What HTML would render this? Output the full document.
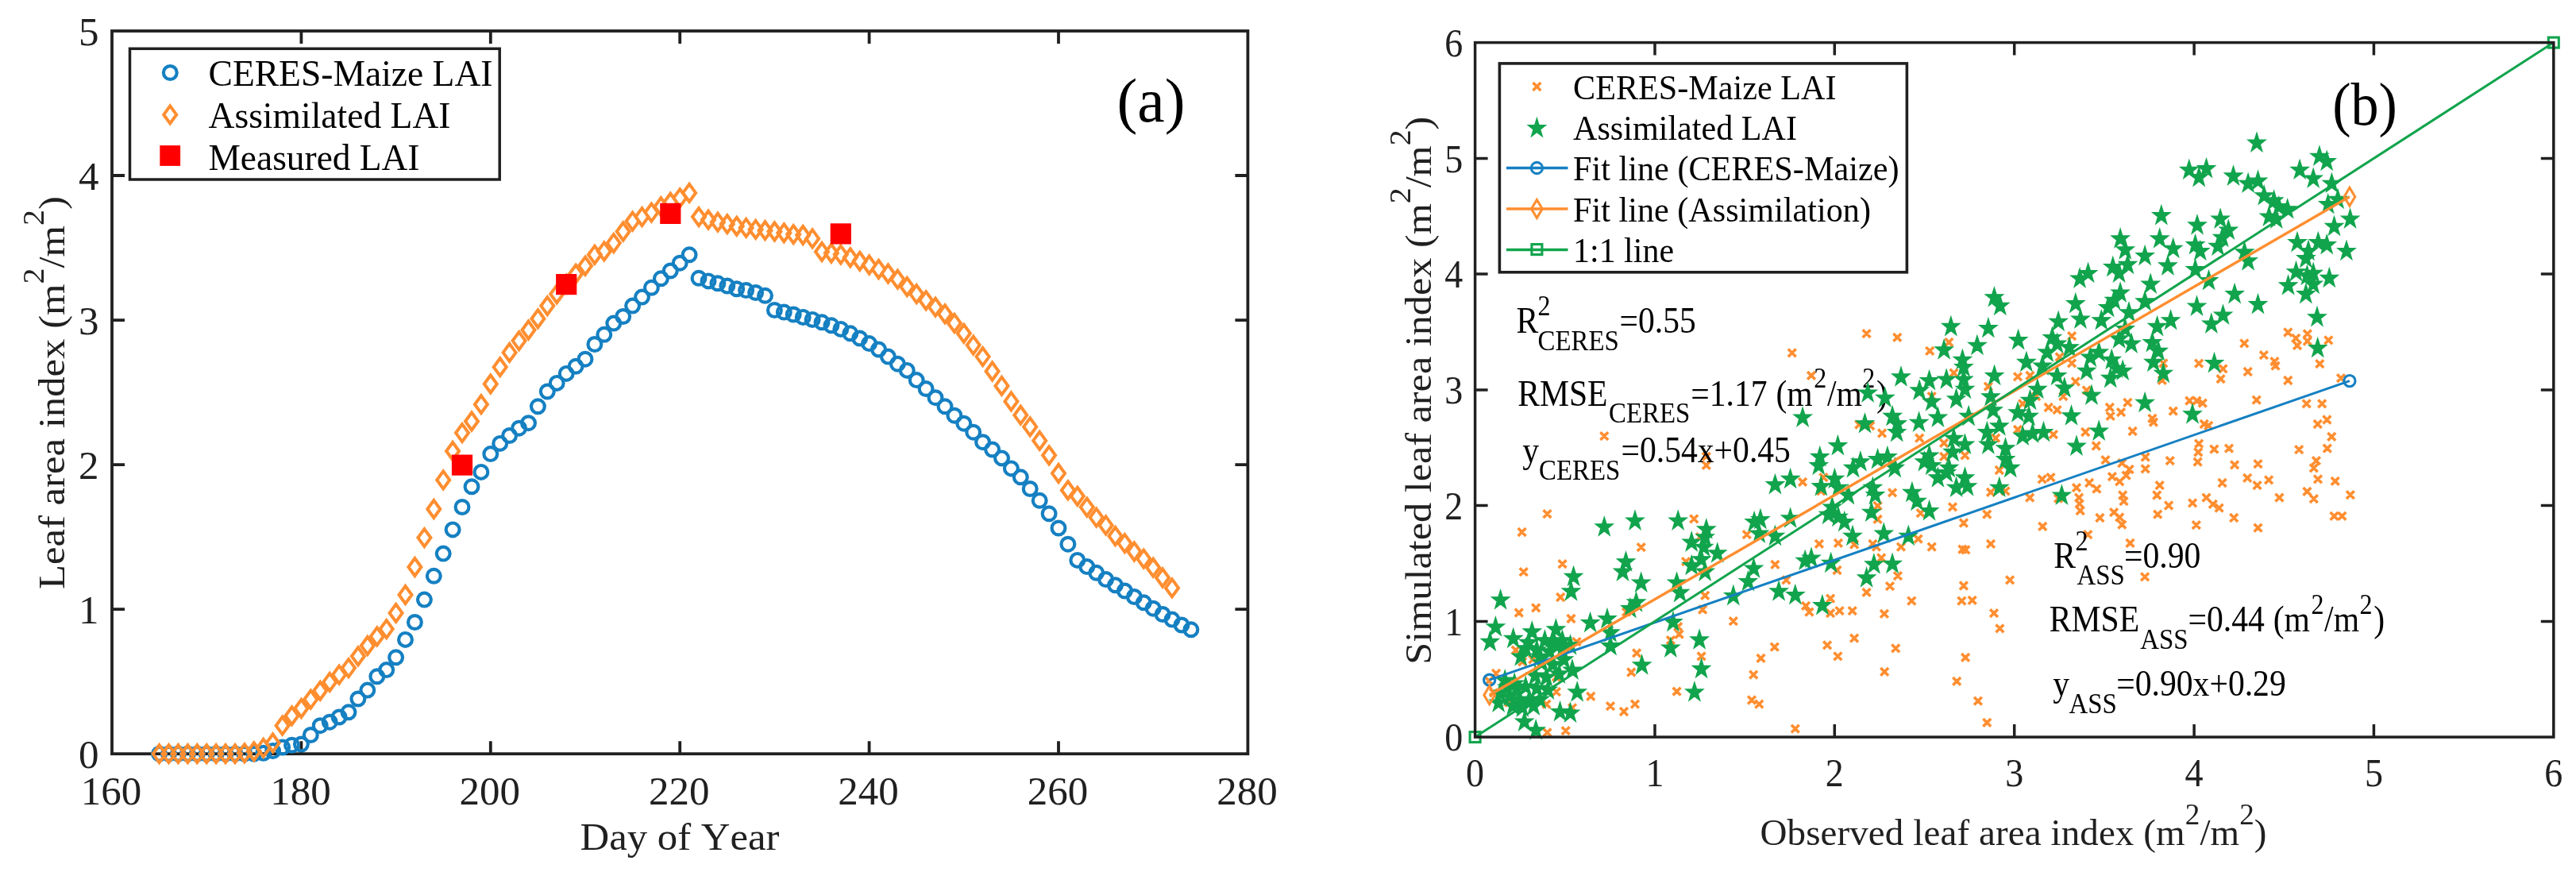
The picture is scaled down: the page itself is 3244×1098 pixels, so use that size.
<!DOCTYPE html>
<html><head><meta charset="utf-8"><title>Figure</title>
<style>html,body{margin:0;padding:0;background:#fff;}svg{display:block;will-change:transform;}text{font-family:"Liberation Serif",serif;font-kerning:none;}</style>
</head><body>
<svg width="3244" height="1098" viewBox="0 0 3244 1098">
<rect width="3244" height="1098" fill="#fff"/>
<g id="left">
<rect x="141.0" y="39.0" width="1430.4" height="910.2" fill="none" stroke="#202020" stroke-width="3.8"/>
<path d="M379.4 949.2v-16M379.4 39.0v16M617.8 949.2v-16M617.8 39.0v16M856.2 949.2v-16M856.2 39.0v16M1094.6 949.2v-16M1094.6 39.0v16M1333.0 949.2v-16M1333.0 39.0v16M141.0 767.2h16M1571.4 767.2h-16M141.0 585.1h16M1571.4 585.1h-16M141.0 403.1h16M1571.4 403.1h-16M141.0 221.0h16M1571.4 221.0h-16" stroke="#202020" stroke-width="3.8" fill="none"/>
<text transform="translate(140.0 1013) scale(0.99 1)" font-size="51.5" font-family="Liberation Serif, serif" fill="#202020" text-anchor="middle">160</text>
<text transform="translate(378.4 1013) scale(0.99 1)" font-size="51.5" font-family="Liberation Serif, serif" fill="#202020" text-anchor="middle">180</text>
<text transform="translate(616.8 1013) scale(0.99 1)" font-size="51.5" font-family="Liberation Serif, serif" fill="#202020" text-anchor="middle">200</text>
<text transform="translate(855.2 1013) scale(0.99 1)" font-size="51.5" font-family="Liberation Serif, serif" fill="#202020" text-anchor="middle">220</text>
<text transform="translate(1093.6 1013) scale(0.99 1)" font-size="51.5" font-family="Liberation Serif, serif" fill="#202020" text-anchor="middle">240</text>
<text transform="translate(1332.0 1013) scale(0.99 1)" font-size="51.5" font-family="Liberation Serif, serif" fill="#202020" text-anchor="middle">260</text>
<text transform="translate(1570.4 1013) scale(0.99 1)" font-size="51.5" font-family="Liberation Serif, serif" fill="#202020" text-anchor="middle">280</text>
<text transform="translate(124.5 967.4) scale(0.99 1)" font-size="51.5" font-family="Liberation Serif, serif" fill="#202020" text-anchor="end">0</text>
<text transform="translate(124.5 785.4) scale(0.99 1)" font-size="51.5" font-family="Liberation Serif, serif" fill="#202020" text-anchor="end">1</text>
<text transform="translate(124.5 603.3) scale(0.99 1)" font-size="51.5" font-family="Liberation Serif, serif" fill="#202020" text-anchor="end">2</text>
<text transform="translate(124.5 421.3) scale(0.99 1)" font-size="51.5" font-family="Liberation Serif, serif" fill="#202020" text-anchor="end">3</text>
<text transform="translate(124.5 239.2) scale(0.99 1)" font-size="51.5" font-family="Liberation Serif, serif" fill="#202020" text-anchor="end">4</text>
<text transform="translate(124.5 57.2) scale(0.99 1)" font-size="51.5" font-family="Liberation Serif, serif" fill="#202020" text-anchor="end">5</text>
<text x="730.5" y="1070" font-size="47.5" font-family="Liberation Serif, serif" fill="#202020" textLength="251" lengthAdjust="spacingAndGlyphs">Day of Year</text>
<text transform="translate(80.6 494.5) rotate(-90)" font-size="47" font-family="Liberation Serif, serif" fill="#202020" text-anchor="middle" textLength="495" lengthAdjust="spacingAndGlyphs">Leaf area index (m<tspan font-size="37.1" dy="-25.9">2</tspan><tspan dy="25.9">/m</tspan><tspan font-size="37.1" dy="-25.9">2</tspan><tspan dy="25.9">)</tspan></text>
<g fill="none" stroke="#1580c2" stroke-width="4.2"><circle cx="200.6" cy="949.2" r="8.4"/><circle cx="212.5" cy="949.2" r="8.4"/><circle cx="224.4" cy="949.2" r="8.4"/><circle cx="236.4" cy="949.2" r="8.4"/><circle cx="248.3" cy="949.2" r="8.4"/><circle cx="260.2" cy="949.2" r="8.4"/><circle cx="272.1" cy="949.2" r="8.4"/><circle cx="284.0" cy="949.2" r="8.4"/><circle cx="296.0" cy="949.2" r="8.4"/><circle cx="307.9" cy="949.2" r="8.4"/><circle cx="319.8" cy="949.2" r="8.4"/><circle cx="331.7" cy="948.3" r="8.4"/><circle cx="343.6" cy="945.6" r="8.4"/><circle cx="355.6" cy="941.0" r="8.4"/><circle cx="367.5" cy="938.3" r="8.4"/><circle cx="379.4" cy="937.0" r="8.4"/><circle cx="391.3" cy="925.5" r="8.4"/><circle cx="403.2" cy="913.7" r="8.4"/><circle cx="415.2" cy="909.2" r="8.4"/><circle cx="427.1" cy="903.0" r="8.4"/><circle cx="439.0" cy="896.8" r="8.4"/><circle cx="450.9" cy="880.0" r="8.4"/><circle cx="462.8" cy="869.1" r="8.4"/><circle cx="474.8" cy="851.8" r="8.4"/><circle cx="486.7" cy="843.6" r="8.4"/><circle cx="498.6" cy="827.8" r="8.4"/><circle cx="510.5" cy="805.4" r="8.4"/><circle cx="522.4" cy="783.5" r="8.4"/><circle cx="534.4" cy="755.1" r="8.4"/><circle cx="546.3" cy="725.3" r="8.4"/><circle cx="558.2" cy="697.1" r="8.4"/><circle cx="570.1" cy="666.9" r="8.4"/><circle cx="582.0" cy="638.5" r="8.4"/><circle cx="594.0" cy="612.8" r="8.4"/><circle cx="605.9" cy="594.4" r="8.4"/><circle cx="617.8" cy="571.6" r="8.4"/><circle cx="629.7" cy="558.4" r="8.4"/><circle cx="641.6" cy="548.5" r="8.4"/><circle cx="653.6" cy="539.2" r="8.4"/><circle cx="665.5" cy="532.7" r="8.4"/><circle cx="677.4" cy="511.8" r="8.4"/><circle cx="689.3" cy="493.0" r="8.4"/><circle cx="701.2" cy="482.4" r="8.4"/><circle cx="713.2" cy="470.4" r="8.4"/><circle cx="725.1" cy="461.3" r="8.4"/><circle cx="737.0" cy="452.2" r="8.4"/><circle cx="748.9" cy="433.5" r="8.4"/><circle cx="760.8" cy="421.3" r="8.4"/><circle cx="772.8" cy="407.1" r="8.4"/><circle cx="784.7" cy="398.5" r="8.4"/><circle cx="796.6" cy="385.1" r="8.4"/><circle cx="808.5" cy="374.1" r="8.4"/><circle cx="820.4" cy="362.3" r="8.4"/><circle cx="832.4" cy="350.8" r="8.4"/><circle cx="844.3" cy="341.0" r="8.4"/><circle cx="856.2" cy="331.2" r="8.4"/><circle cx="868.1" cy="320.8" r="8.4"/><circle cx="880.0" cy="350.3" r="8.4"/><circle cx="892.0" cy="353.9" r="8.4"/><circle cx="903.9" cy="356.8" r="8.4"/><circle cx="915.8" cy="360.1" r="8.4"/><circle cx="927.7" cy="363.8" r="8.4"/><circle cx="939.6" cy="365.6" r="8.4"/><circle cx="951.6" cy="368.5" r="8.4"/><circle cx="963.5" cy="372.3" r="8.4"/><circle cx="975.4" cy="390.5" r="8.4"/><circle cx="987.3" cy="393.1" r="8.4"/><circle cx="999.2" cy="396.0" r="8.4"/><circle cx="1011.2" cy="399.4" r="8.4"/><circle cx="1023.1" cy="402.4" r="8.4"/><circle cx="1035.0" cy="405.8" r="8.4"/><circle cx="1046.9" cy="409.8" r="8.4"/><circle cx="1058.8" cy="414.4" r="8.4"/><circle cx="1070.8" cy="419.8" r="8.4"/><circle cx="1082.7" cy="426.0" r="8.4"/><circle cx="1094.6" cy="432.6" r="8.4"/><circle cx="1106.5" cy="440.0" r="8.4"/><circle cx="1118.4" cy="449.1" r="8.4"/><circle cx="1130.4" cy="458.2" r="8.4"/><circle cx="1142.3" cy="466.4" r="8.4"/><circle cx="1154.2" cy="478.6" r="8.4"/><circle cx="1166.1" cy="489.5" r="8.4"/><circle cx="1178.0" cy="500.7" r="8.4"/><circle cx="1190.0" cy="511.8" r="8.4"/><circle cx="1201.9" cy="523.2" r="8.4"/><circle cx="1213.8" cy="533.2" r="8.4"/><circle cx="1225.7" cy="544.2" r="8.4"/><circle cx="1237.6" cy="556.7" r="8.4"/><circle cx="1249.6" cy="566.0" r="8.4"/><circle cx="1261.5" cy="576.9" r="8.4"/><circle cx="1273.4" cy="589.9" r="8.4"/><circle cx="1285.3" cy="600.8" r="8.4"/><circle cx="1297.2" cy="615.5" r="8.4"/><circle cx="1309.2" cy="630.3" r="8.4"/><circle cx="1321.1" cy="646.8" r="8.4"/><circle cx="1333.0" cy="665.0" r="8.4"/><circle cx="1344.9" cy="685.2" r="8.4"/><circle cx="1356.8" cy="705.4" r="8.4"/><circle cx="1368.8" cy="713.6" r="8.4"/><circle cx="1380.7" cy="721.3" r="8.4"/><circle cx="1392.6" cy="729.5" r="8.4"/><circle cx="1404.5" cy="736.8" r="8.4"/><circle cx="1416.4" cy="744.0" r="8.4"/><circle cx="1428.4" cy="751.5" r="8.4"/><circle cx="1440.3" cy="758.8" r="8.4"/><circle cx="1452.2" cy="766.2" r="8.4"/><circle cx="1464.1" cy="773.5" r="8.4"/><circle cx="1476.0" cy="780.1" r="8.4"/><circle cx="1488.0" cy="787.0" r="8.4"/><circle cx="1499.9" cy="792.8" r="8.4"/></g>
<path d="M200.6 938.2l8.0 11.0l-8.0 11.0l-8.0 -11.0zM212.5 938.2l8.0 11.0l-8.0 11.0l-8.0 -11.0zM224.4 938.2l8.0 11.0l-8.0 11.0l-8.0 -11.0zM236.4 938.2l8.0 11.0l-8.0 11.0l-8.0 -11.0zM248.3 938.2l8.0 11.0l-8.0 11.0l-8.0 -11.0zM260.2 938.2l8.0 11.0l-8.0 11.0l-8.0 -11.0zM272.1 938.2l8.0 11.0l-8.0 11.0l-8.0 -11.0zM284.0 938.2l8.0 11.0l-8.0 11.0l-8.0 -11.0zM296.0 938.2l8.0 11.0l-8.0 11.0l-8.0 -11.0zM307.9 937.3l8.0 11.0l-8.0 11.0l-8.0 -11.0zM319.8 935.3l8.0 11.0l-8.0 11.0l-8.0 -11.0zM331.7 930.9l8.0 11.0l-8.0 11.0l-8.0 -11.0zM343.6 924.5l8.0 11.0l-8.0 11.0l-8.0 -11.0zM355.6 902.7l8.0 11.0l-8.0 11.0l-8.0 -11.0zM367.5 890.3l8.0 11.0l-8.0 11.0l-8.0 -11.0zM379.4 881.0l8.0 11.0l-8.0 11.0l-8.0 -11.0zM391.3 869.6l8.0 11.0l-8.0 11.0l-8.0 -11.0zM403.2 858.8l8.0 11.0l-8.0 11.0l-8.0 -11.0zM415.2 847.9l8.0 11.0l-8.0 11.0l-8.0 -11.0zM427.1 838.6l8.0 11.0l-8.0 11.0l-8.0 -11.0zM439.0 830.1l8.0 11.0l-8.0 11.0l-8.0 -11.0zM450.9 815.3l8.0 11.0l-8.0 11.0l-8.0 -11.0zM462.8 802.0l8.0 11.0l-8.0 11.0l-8.0 -11.0zM474.8 790.4l8.0 11.0l-8.0 11.0l-8.0 -11.0zM486.7 781.1l8.0 11.0l-8.0 11.0l-8.0 -11.0zM498.6 760.9l8.0 11.0l-8.0 11.0l-8.0 -11.0zM510.5 738.0l8.0 11.0l-8.0 11.0l-8.0 -11.0zM522.4 703.0l8.0 11.0l-8.0 11.0l-8.0 -11.0zM534.4 666.1l8.0 11.0l-8.0 11.0l-8.0 -11.0zM546.3 630.0l8.0 11.0l-8.0 11.0l-8.0 -11.0zM558.2 593.4l8.0 11.0l-8.0 11.0l-8.0 -11.0zM570.1 557.0l8.0 11.0l-8.0 11.0l-8.0 -11.0zM582.0 534.1l8.0 11.0l-8.0 11.0l-8.0 -11.0zM594.0 519.5l8.0 11.0l-8.0 11.0l-8.0 -11.0zM605.9 498.2l8.0 11.0l-8.0 11.0l-8.0 -11.0zM617.8 472.5l8.0 11.0l-8.0 11.0l-8.0 -11.0zM629.7 451.2l8.0 11.0l-8.0 11.0l-8.0 -11.0zM641.6 432.9l8.0 11.0l-8.0 11.0l-8.0 -11.0zM653.6 418.1l8.0 11.0l-8.0 11.0l-8.0 -11.0zM665.5 404.5l8.0 11.0l-8.0 11.0l-8.0 -11.0zM677.4 390.3l8.0 11.0l-8.0 11.0l-8.0 -11.0zM689.3 374.1l8.0 11.0l-8.0 11.0l-8.0 -11.0zM701.2 359.3l8.0 11.0l-8.0 11.0l-8.0 -11.0zM713.2 346.6l8.0 11.0l-8.0 11.0l-8.0 -11.0zM725.1 333.8l8.0 11.0l-8.0 11.0l-8.0 -11.0zM737.0 323.8l8.0 11.0l-8.0 11.0l-8.0 -11.0zM748.9 309.8l8.0 11.0l-8.0 11.0l-8.0 -11.0zM760.8 305.4l8.0 11.0l-8.0 11.0l-8.0 -11.0zM772.8 295.1l8.0 11.0l-8.0 11.0l-8.0 -11.0zM784.7 280.5l8.0 11.0l-8.0 11.0l-8.0 -11.0zM796.6 267.6l8.0 11.0l-8.0 11.0l-8.0 -11.0zM808.5 262.1l8.0 11.0l-8.0 11.0l-8.0 -11.0zM820.4 256.6l8.0 11.0l-8.0 11.0l-8.0 -11.0zM832.4 249.2l8.0 11.0l-8.0 11.0l-8.0 -11.0zM844.3 243.7l8.0 11.0l-8.0 11.0l-8.0 -11.0zM856.2 238.3l8.0 11.0l-8.0 11.0l-8.0 -11.0zM868.1 231.9l8.0 11.0l-8.0 11.0l-8.0 -11.0zM880.0 262.1l8.0 11.0l-8.0 11.0l-8.0 -11.0zM892.0 265.7l8.0 11.0l-8.0 11.0l-8.0 -11.0zM903.9 268.7l8.0 11.0l-8.0 11.0l-8.0 -11.0zM915.8 271.2l8.0 11.0l-8.0 11.0l-8.0 -11.0zM927.7 273.8l8.0 11.0l-8.0 11.0l-8.0 -11.0zM939.6 275.9l8.0 11.0l-8.0 11.0l-8.0 -11.0zM951.6 277.9l8.0 11.0l-8.0 11.0l-8.0 -11.0zM963.5 279.2l8.0 11.0l-8.0 11.0l-8.0 -11.0zM975.4 280.5l8.0 11.0l-8.0 11.0l-8.0 -11.0zM987.3 282.3l8.0 11.0l-8.0 11.0l-8.0 -11.0zM999.2 284.1l8.0 11.0l-8.0 11.0l-8.0 -11.0zM1011.2 285.0l8.0 11.0l-8.0 11.0l-8.0 -11.0zM1023.1 289.4l8.0 11.0l-8.0 11.0l-8.0 -11.0zM1035.0 306.0l8.0 11.0l-8.0 11.0l-8.0 -11.0zM1046.9 307.8l8.0 11.0l-8.0 11.0l-8.0 -11.0zM1058.8 309.6l8.0 11.0l-8.0 11.0l-8.0 -11.0zM1070.8 313.3l8.0 11.0l-8.0 11.0l-8.0 -11.0zM1082.7 317.8l8.0 11.0l-8.0 11.0l-8.0 -11.0zM1094.6 322.5l8.0 11.0l-8.0 11.0l-8.0 -11.0zM1106.5 328.0l8.0 11.0l-8.0 11.0l-8.0 -11.0zM1118.4 333.5l8.0 11.0l-8.0 11.0l-8.0 -11.0zM1130.4 340.7l8.0 11.0l-8.0 11.0l-8.0 -11.0zM1142.3 350.0l8.0 11.0l-8.0 11.0l-8.0 -11.0zM1154.2 359.1l8.0 11.0l-8.0 11.0l-8.0 -11.0zM1166.1 367.3l8.0 11.0l-8.0 11.0l-8.0 -11.0zM1178.0 375.7l8.0 11.0l-8.0 11.0l-8.0 -11.0zM1190.0 384.3l8.0 11.0l-8.0 11.0l-8.0 -11.0zM1201.9 395.9l8.0 11.0l-8.0 11.0l-8.0 -11.0zM1213.8 408.8l8.0 11.0l-8.0 11.0l-8.0 -11.0zM1225.7 423.6l8.0 11.0l-8.0 11.0l-8.0 -11.0zM1237.6 438.1l8.0 11.0l-8.0 11.0l-8.0 -11.0zM1249.6 456.5l8.0 11.0l-8.0 11.0l-8.0 -11.0zM1261.5 474.9l8.0 11.0l-8.0 11.0l-8.0 -11.0zM1273.4 494.4l8.0 11.0l-8.0 11.0l-8.0 -11.0zM1285.3 511.7l8.0 11.0l-8.0 11.0l-8.0 -11.0zM1297.2 526.4l8.0 11.0l-8.0 11.0l-8.0 -11.0zM1309.2 543.9l8.0 11.0l-8.0 11.0l-8.0 -11.0zM1321.1 562.3l8.0 11.0l-8.0 11.0l-8.0 -11.0zM1333.0 585.0l8.0 11.0l-8.0 11.0l-8.0 -11.0zM1344.9 606.3l8.0 11.0l-8.0 11.0l-8.0 -11.0zM1356.8 613.8l8.0 11.0l-8.0 11.0l-8.0 -11.0zM1368.8 627.6l8.0 11.0l-8.0 11.0l-8.0 -11.0zM1380.7 640.6l8.0 11.0l-8.0 11.0l-8.0 -11.0zM1392.6 650.4l8.0 11.0l-8.0 11.0l-8.0 -11.0zM1404.5 664.0l8.0 11.0l-8.0 11.0l-8.0 -11.0zM1416.4 673.1l8.0 11.0l-8.0 11.0l-8.0 -11.0zM1428.4 683.5l8.0 11.0l-8.0 11.0l-8.0 -11.0zM1440.3 692.6l8.0 11.0l-8.0 11.0l-8.0 -11.0zM1452.2 703.7l8.0 11.0l-8.0 11.0l-8.0 -11.0zM1464.1 716.5l8.0 11.0l-8.0 11.0l-8.0 -11.0zM1476.0 729.4l8.0 11.0l-8.0 11.0l-8.0 -11.0z" fill="none" stroke="#ff8e30" stroke-width="4.0" stroke-linejoin="miter"/>
<rect x="568.9" y="572.5" width="26.2" height="26.2" fill="#ff0000"/>
<rect x="700.1" y="345.0" width="26.2" height="26.2" fill="#ff0000"/>
<rect x="831.2" y="255.8" width="26.2" height="26.2" fill="#ff0000"/>
<rect x="1045.7" y="281.3" width="26.2" height="26.2" fill="#ff0000"/>
<rect x="163.5" y="61.3" width="465.70000000000005" height="164.7" fill="#fff" stroke="#202020" stroke-width="3.5"/>
<circle cx="214.3" cy="91.5" r="8.4" fill="none" stroke="#1580c2" stroke-width="4.2"/>
<path d="M214.2 133.4l8.0 11.0l-8.0 11.0l-8.0 -11.0z" fill="none" stroke="#ff8e30" stroke-width="4.0"/>
<rect x="201.29999999999998" y="183.1" width="25.8" height="25.8" fill="#ff0000"/>
<text x="262.5" y="108.4" font-size="46.5" font-family="Liberation Serif, serif" fill="#000" textLength="358" lengthAdjust="spacingAndGlyphs">CERES-Maize LAI</text>
<text x="262.5" y="161" font-size="46.5" font-family="Liberation Serif, serif" fill="#000" textLength="305" lengthAdjust="spacingAndGlyphs">Assimilated LAI</text>
<text x="262.5" y="213.6" textLength="266" lengthAdjust="spacingAndGlyphs" font-size="46.5" font-family="Liberation Serif, serif" fill="#000">Measured LAI</text>
<text x="1449.5" y="153.3" font-size="77.5" font-family="Liberation Serif, serif" fill="#000" text-anchor="middle">(a)</text>
</g>
<g id="right">
<path d="M2061.8 684.3l9.8 9.8M2061.8 694.1l9.8 -9.8M1962.7 705.3l9.8 9.8M1962.7 715.1l9.8 -9.8M1913.8 715.3l9.8 9.8M1913.8 725.1l9.8 -9.8M1960.3 747.1l9.8 9.8M1960.3 756.9l9.8 -9.8M1929.3 760.5l9.8 9.8M1929.3 770.3l9.8 -9.8M1907.9 766.6l9.8 9.8M1907.9 776.4l9.8 -9.8M1973.6 774.1l9.8 9.8M1973.6 783.9l9.8 -9.8M2136.1 671.3l9.8 9.8M2136.1 681.1l9.8 -9.8M2118.2 702.3l9.8 9.8M2118.2 712.1l9.8 -9.8M2139.2 762.6l9.8 9.8M2139.2 772.4l9.8 -9.8M2142.3 745.0l9.8 9.8M2142.3 754.8l9.8 -9.8M2177.9 777.2l9.8 9.8M2177.9 787.0l9.8 -9.8M2230.5 706.0l9.8 9.8M2230.5 715.8l9.8 -9.8M2244.5 725.5l9.8 9.8M2244.5 735.3l9.8 -9.8M2108.3 784.3l9.8 9.8M2108.3 794.1l9.8 -9.8M2109.8 793.6l9.8 9.8M2109.8 803.4l9.8 -9.8M2099.0 801.3l9.8 9.8M2099.0 811.1l9.8 -9.8M2056.2 817.4l9.8 9.8M2056.2 827.2l9.8 -9.8M2137.7 821.4l9.8 9.8M2137.7 831.2l9.8 -9.8M2049.4 841.6l9.8 9.8M2049.4 851.4l9.8 -9.8M2229.9 809.7l9.8 9.8M2229.9 819.5l9.8 -9.8M2212.6 823.9l9.8 9.8M2212.6 833.7l9.8 -9.8M2203.3 844.7l9.8 9.8M2203.3 854.5l9.8 -9.8M2106.7 865.7l9.8 9.8M2106.7 875.5l9.8 -9.8M2201.1 876.6l9.8 9.8M2201.1 886.4l9.8 -9.8M2210.4 881.8l9.8 9.8M2210.4 891.6l9.8 -9.8M1998.4 871.9l9.8 9.8M1998.4 881.7l9.8 -9.8M2023.1 884.3l9.8 9.8M2023.1 894.1l9.8 -9.8M2040.1 891.1l9.8 9.8M2040.1 900.9l9.8 -9.8M2054.1 881.8l9.8 9.8M2054.1 891.6l9.8 -9.8M1943.6 917.4l9.8 9.8M1943.6 927.2l9.8 -9.8M1966.8 915.3l9.8 9.8M1966.8 925.1l9.8 -9.8M1955.0 866.3l9.8 9.8M1955.0 876.1l9.8 -9.8M1942.6 881.8l9.8 9.8M1942.6 891.6l9.8 -9.8M1975.1 886.5l9.8 9.8M1975.1 896.3l9.8 -9.8M1955.0 847.8l9.8 9.8M1955.0 857.6l9.8 -9.8M1879.2 843.1l9.8 9.8M1879.2 852.9l9.8 -9.8M1903.9 813.7l9.8 9.8M1903.9 823.5l9.8 -9.8M1911.7 665.1l9.8 9.8M1911.7 674.9l9.8 -9.8M2194.9 668.2l9.8 9.8M2194.9 678.0l9.8 -9.8M2043.2 765.7l9.8 9.8M2043.2 775.5l9.8 -9.8M1912.3 828.4l9.8 9.8M1912.3 838.2l9.8 -9.8M1925.4 825.4l9.8 9.8M1925.4 835.2l9.8 -9.8M1870.2 852.5l9.8 9.8M1870.2 862.3l9.8 -9.8M1895.3 879.6l9.8 9.8M1895.3 889.4l9.8 -9.8M1876.2 867.5l9.8 9.8M1876.2 877.3l9.8 -9.8M1980.6 803.3l9.8 9.8M1980.6 813.1l9.8 -9.8M2286.0 680.0l9.8 9.8M2286.0 689.8l9.8 -9.8M2310.1 679.0l9.8 9.8M2310.1 688.8l9.8 -9.8M2330.2 680.6l9.8 9.8M2330.2 690.4l9.8 -9.8M2353.5 680.0l9.8 9.8M2353.5 689.8l9.8 -9.8M2358.1 683.7l9.8 9.8M2358.1 693.5l9.8 -9.8M2389.1 683.7l9.8 9.8M2389.1 693.5l9.8 -9.8M2410.7 673.8l9.8 9.8M2410.7 683.6l9.8 -9.8M2427.8 683.7l9.8 9.8M2427.8 693.5l9.8 -9.8M2466.5 686.8l9.8 9.8M2466.5 696.6l9.8 -9.8M2470.5 687.4l9.8 9.8M2470.5 697.2l9.8 -9.8M2502.1 680.0l9.8 9.8M2502.1 689.8l9.8 -9.8M2624.4 668.2l9.8 9.8M2624.4 678.0l9.8 -9.8M2308.6 713.1l9.8 9.8M2308.6 722.9l9.8 -9.8M2364.3 697.6l9.8 9.8M2364.3 707.4l9.8 -9.8M2385.0 720.2l9.8 9.8M2385.0 730.0l9.8 -9.8M2375.1 733.2l9.8 9.8M2375.1 743.0l9.8 -9.8M2345.7 741.0l9.8 9.8M2345.7 750.8l9.8 -9.8M2300.2 748.7l9.8 9.8M2300.2 758.5l9.8 -9.8M2269.2 758.0l9.8 9.8M2269.2 767.8l9.8 -9.8M2273.6 765.7l9.8 9.8M2273.6 775.5l9.8 -9.8M2300.2 767.3l9.8 9.8M2300.2 777.1l9.8 -9.8M2311.7 764.2l9.8 9.8M2311.7 774.0l9.8 -9.8M2327.8 764.2l9.8 9.8M2327.8 774.0l9.8 -9.8M2368.0 767.9l9.8 9.8M2368.0 777.7l9.8 -9.8M2402.4 751.8l9.8 9.8M2402.4 761.6l9.8 -9.8M2468.0 732.6l9.8 9.8M2468.0 742.4l9.8 -9.8M2465.5 751.8l9.8 9.8M2465.5 761.6l9.8 -9.8M2478.8 750.9l9.8 9.8M2478.8 760.7l9.8 -9.8M2526.2 725.5l9.8 9.8M2526.2 735.3l9.8 -9.8M2506.1 767.3l9.8 9.8M2506.1 777.1l9.8 -9.8M2513.5 786.5l9.8 9.8M2513.5 796.3l9.8 -9.8M2296.2 807.5l9.8 9.8M2296.2 817.3l9.8 -9.8M2330.2 798.8l9.8 9.8M2330.2 808.6l9.8 -9.8M2309.5 821.4l9.8 9.8M2309.5 831.2l9.8 -9.8M2382.3 811.5l9.8 9.8M2382.3 821.3l9.8 -9.8M2368.3 841.0l9.8 9.8M2368.3 850.8l9.8 -9.8M2470.2 823.0l9.8 9.8M2470.2 832.8l9.8 -9.8M2459.3 853.0l9.8 9.8M2459.3 862.8l9.8 -9.8M2486.0 877.8l9.8 9.8M2486.0 887.6l9.8 -9.8M2497.4 905.0l9.8 9.8M2497.4 914.8l9.8 -9.8M2255.9 912.8l9.8 9.8M2255.9 922.6l9.8 -9.8M2567.4 657.9l9.8 9.8M2567.4 667.7l9.8 -9.8M2677.6 678.9l9.8 9.8M2677.6 688.7l9.8 -9.8M2696.2 721.4l9.8 9.8M2696.2 731.2l9.8 -9.8M2551.3 621.7l9.8 9.8M2551.3 631.5l9.8 -9.8M2566.8 598.4l9.8 9.8M2566.8 608.2l9.8 -9.8M2577.6 596.3l9.8 9.8M2577.6 606.1l9.8 -9.8M2610.1 609.3l9.8 9.8M2610.1 619.1l9.8 -9.8M2613.2 621.7l9.8 9.8M2613.2 631.5l9.8 -9.8M2613.8 629.4l9.8 9.8M2613.8 639.2l9.8 -9.8M2614.8 638.1l9.8 9.8M2614.8 647.9l9.8 -9.8M2626.2 603.1l9.8 9.8M2626.2 612.9l9.8 -9.8M2635.5 610.8l9.8 9.8M2635.5 620.6l9.8 -9.8M2639.5 647.1l9.8 9.8M2639.5 656.9l9.8 -9.8M2646.6 574.3l9.8 9.8M2646.6 584.1l9.8 -9.8M2655.0 595.3l9.8 9.8M2655.0 605.1l9.8 -9.8M2664.3 601.5l9.8 9.8M2664.3 611.3l9.8 -9.8M2667.4 578.3l9.8 9.8M2667.4 588.1l9.8 -9.8M2672.7 593.8l9.8 9.8M2672.7 603.6l9.8 -9.8M2676.7 586.1l9.8 9.8M2676.7 595.9l9.8 -9.8M2668.3 618.6l9.8 9.8M2668.3 628.4l9.8 -9.8M2669.6 626.3l9.8 9.8M2669.6 636.1l9.8 -9.8M2657.2 640.2l9.8 9.8M2657.2 650.0l9.8 -9.8M2664.3 646.4l9.8 9.8M2664.3 656.2l9.8 -9.8M2667.4 655.7l9.8 9.8M2667.4 665.5l9.8 -9.8M2696.8 570.6l9.8 9.8M2696.8 580.4l9.8 -9.8M2696.8 585.4l9.8 9.8M2696.8 595.2l9.8 -9.8M2727.8 575.2l9.8 9.8M2727.8 585.0l9.8 -9.8M2714.8 606.2l9.8 9.8M2714.8 616.0l9.8 -9.8M2711.4 618.6l9.8 9.8M2711.4 628.4l9.8 -9.8M2726.2 631.6l9.8 9.8M2726.2 641.4l9.8 -9.8M2712.3 642.7l9.8 9.8M2712.3 652.5l9.8 -9.8M2756.2 628.5l9.8 9.8M2756.2 638.3l9.8 -9.8M2760.9 656.3l9.8 9.8M2760.9 666.1l9.8 -9.8M2763.4 564.4l9.8 9.8M2763.4 574.2l9.8 -9.8M2762.7 576.8l9.8 9.8M2762.7 586.6l9.8 -9.8M2783.5 560.7l9.8 9.8M2783.5 570.5l9.8 -9.8M2802.1 559.7l9.8 9.8M2802.1 569.5l9.8 -9.8M2809.2 580.5l9.8 9.8M2809.2 590.3l9.8 -9.8M2793.7 603.1l9.8 9.8M2793.7 612.9l9.8 -9.8M2773.6 621.7l9.8 9.8M2773.6 631.5l9.8 -9.8M2781.9 630.0l9.8 9.8M2781.9 639.8l9.8 -9.8M2789.7 634.7l9.8 9.8M2789.7 644.5l9.8 -9.8M2808.3 647.1l9.8 9.8M2808.3 656.9l9.8 -9.8M2838.6 579.2l9.8 9.8M2838.6 589.0l9.8 -9.8M2825.3 596.9l9.8 9.8M2825.3 606.7l9.8 -9.8M2837.7 606.2l9.8 9.8M2837.7 616.0l9.8 -9.8M2852.2 599.4l9.8 9.8M2852.2 609.2l9.8 -9.8M2865.5 621.7l9.8 9.8M2865.5 631.5l9.8 -9.8M2838.6 659.7l9.8 9.8M2838.6 669.5l9.8 -9.8M2890.3 561.3l9.8 9.8M2890.3 571.1l9.8 -9.8M2925.9 559.7l9.8 9.8M2925.9 569.5l9.8 -9.8M2912.0 575.2l9.8 9.8M2912.0 585.0l9.8 -9.8M2908.9 584.5l9.8 9.8M2908.9 594.3l9.8 -9.8M2914.1 598.4l9.8 9.8M2914.1 608.2l9.8 -9.8M2900.5 613.9l9.8 9.8M2900.5 623.7l9.8 -9.8M2908.9 623.2l9.8 9.8M2908.9 633.0l9.8 -9.8M2935.8 600.9l9.8 9.8M2935.8 610.7l9.8 -9.8M2934.6 644.9l9.8 9.8M2934.6 654.7l9.8 -9.8M2944.5 644.9l9.8 9.8M2944.5 654.7l9.8 -9.8M2634.9 556.6l9.8 9.8M2634.9 566.4l9.8 -9.8M2821.4 427.5l9.8 9.8M2821.4 437.3l9.8 -9.8M2764.2 452.8l9.8 9.8M2764.2 462.6l9.8 -9.8M2794.6 459.4l9.8 9.8M2794.6 469.2l9.8 -9.8M2791.7 472.3l9.8 9.8M2791.7 482.1l9.8 -9.8M2825.8 463.1l9.8 9.8M2825.8 472.9l9.8 -9.8M2845.9 442.2l9.8 9.8M2845.9 452.0l9.8 -9.8M2859.5 450.3l9.8 9.8M2859.5 460.1l9.8 -9.8M2860.6 455.8l9.8 9.8M2860.6 465.6l9.8 -9.8M2876.4 474.1l9.8 9.8M2876.4 483.9l9.8 -9.8M2876.4 413.6l9.8 9.8M2876.4 423.4l9.8 -9.8M2886.3 420.9l9.8 9.8M2886.3 430.7l9.8 -9.8M2888.1 430.1l9.8 9.8M2888.1 439.9l9.8 -9.8M2900.9 415.4l9.8 9.8M2900.9 425.2l9.8 -9.8M2900.9 424.6l9.8 9.8M2900.9 434.4l9.8 -9.8M2927.4 423.5l9.8 9.8M2927.4 433.3l9.8 -9.8M2916.4 453.2l9.8 9.8M2916.4 463.0l9.8 -9.8M2943.1 471.2l9.8 9.8M2943.1 481.0l9.8 -9.8M2752.4 499.8l9.8 9.8M2752.4 509.6l9.8 -9.8M2761.6 499.8l9.8 9.8M2761.6 509.6l9.8 -9.8M2768.9 502.7l9.8 9.8M2768.9 512.5l9.8 -9.8M2836.8 498.7l9.8 9.8M2836.8 508.5l9.8 -9.8M2770.8 529.1l9.8 9.8M2770.8 538.9l9.8 -9.8M2776.3 530.9l9.8 9.8M2776.3 540.7l9.8 -9.8M2899.8 503.4l9.8 9.8M2899.8 513.2l9.8 -9.8M2919.3 503.4l9.8 9.8M2919.3 513.2l9.8 -9.8M2925.5 523.6l9.8 9.8M2925.5 533.4l9.8 -9.8M2913.8 529.1l9.8 9.8M2913.8 538.9l9.8 -9.8M2931.4 544.9l9.8 9.8M2931.4 554.7l9.8 -9.8M2954.9 618.2l9.8 9.8M2954.9 628.0l9.8 -9.8M2764.2 553.7l9.8 9.8M2764.2 563.5l9.8 -9.8M2345.7 415.2l9.8 9.8M2345.7 425.0l9.8 -9.8M2384.4 419.9l9.8 9.8M2384.4 429.7l9.8 -9.8M2251.9 439.4l9.8 9.8M2251.9 449.2l9.8 -9.8M2425.3 436.9l9.8 9.8M2425.3 446.7l9.8 -9.8M2449.4 426.1l9.8 9.8M2449.4 435.9l9.8 -9.8M2276.1 467.9l9.8 9.8M2276.1 477.7l9.8 -9.8M2455.6 464.8l9.8 9.8M2455.6 474.6l9.8 -9.8M2427.8 494.2l9.8 9.8M2427.8 504.0l9.8 -9.8M2350.4 531.3l9.8 9.8M2350.4 541.1l9.8 -9.8M2365.2 540.6l9.8 9.8M2365.2 550.4l9.8 -9.8M2336.4 529.8l9.8 9.8M2336.4 539.6l9.8 -9.8M2412.3 546.8l9.8 9.8M2412.3 556.6l9.8 -9.8M2265.2 601.9l9.8 9.8M2265.2 611.7l9.8 -9.8M2291.5 596.3l9.8 9.8M2291.5 606.1l9.8 -9.8M2288.4 613.4l9.8 9.8M2288.4 623.2l9.8 -9.8M2378.2 615.5l9.8 9.8M2378.2 625.3l9.8 -9.8M2454.1 633.5l9.8 9.8M2454.1 643.3l9.8 -9.8M2413.8 641.2l9.8 9.8M2413.8 651.0l9.8 -9.8M2359.7 631.9l9.8 9.8M2359.7 641.7l9.8 -9.8M2359.7 649.0l9.8 9.8M2359.7 658.8l9.8 -9.8M2468.0 653.6l9.8 9.8M2468.0 663.4l9.8 -9.8M2497.4 642.8l9.8 9.8M2497.4 652.6l9.8 -9.8M2499.0 481.8l9.8 9.8M2499.0 491.6l9.8 -9.8M2536.1 469.4l9.8 9.8M2536.1 479.2l9.8 -9.8M2551.6 467.9l9.8 9.8M2551.6 477.7l9.8 -9.8M2604.2 418.3l9.8 9.8M2604.2 428.1l9.8 -9.8M2588.8 444.6l9.8 9.8M2588.8 454.4l9.8 -9.8M2604.2 452.4l9.8 9.8M2604.2 462.2l9.8 -9.8M2608.9 475.6l9.8 9.8M2608.9 485.4l9.8 -9.8M2622.8 486.4l9.8 9.8M2622.8 496.2l9.8 -9.8M2593.4 494.2l9.8 9.8M2593.4 504.0l9.8 -9.8M2559.3 494.2l9.8 9.8M2559.3 504.0l9.8 -9.8M2542.3 503.5l9.8 9.8M2542.3 513.3l9.8 -9.8M2574.8 508.1l9.8 9.8M2574.8 517.9l9.8 -9.8M2585.7 511.2l9.8 9.8M2585.7 521.0l9.8 -9.8M2536.1 536.0l9.8 9.8M2536.1 545.8l9.8 -9.8M2581.0 542.2l9.8 9.8M2581.0 552.0l9.8 -9.8M2621.3 539.1l9.8 9.8M2621.3 548.9l9.8 -9.8M2508.3 546.8l9.8 9.8M2508.3 556.6l9.8 -9.8M2443.2 553.0l9.8 9.8M2443.2 562.8l9.8 -9.8M2443.2 570.0l9.8 9.8M2443.2 579.8l9.8 -9.8M2469.6 568.5l9.8 9.8M2469.6 578.3l9.8 -9.8M2512.9 587.1l9.8 9.8M2512.9 596.9l9.8 -9.8M2502.1 614.9l9.8 9.8M2502.1 624.7l9.8 -9.8M2520.6 613.4l9.8 9.8M2520.6 623.2l9.8 -9.8M2587.2 622.7l9.8 9.8M2587.2 632.5l9.8 -9.8M2015.4 544.3l9.8 9.8M2015.4 554.1l9.8 -9.8M2143.9 570.0l9.8 9.8M2143.9 579.8l9.8 -9.8M2143.9 580.9l9.8 9.8M2143.9 590.7l9.8 -9.8M1943.6 642.2l9.8 9.8M1943.6 652.0l9.8 -9.8M2128.4 648.4l9.8 9.8M2128.4 658.2l9.8 -9.8M2717.9 474.0l9.8 9.8M2717.9 483.8l9.8 -9.8M2719.4 452.4l9.8 9.8M2719.4 462.2l9.8 -9.8M2731.8 512.7l9.8 9.8M2731.8 522.5l9.8 -9.8M2705.5 522.0l9.8 9.8M2705.5 531.8l9.8 -9.8M2707.0 526.7l9.8 9.8M2707.0 536.5l9.8 -9.8M2674.5 501.9l9.8 9.8M2674.5 511.7l9.8 -9.8M2666.2 514.3l9.8 9.8M2666.2 524.1l9.8 -9.8M2651.9 508.1l9.8 9.8M2651.9 517.9l9.8 -9.8M2652.8 518.9l9.8 9.8M2652.8 528.7l9.8 -9.8M2680.7 538.1l9.8 9.8M2680.7 547.9l9.8 -9.8" stroke="#ff8e30" stroke-width="3.6" fill="none"/>
<text transform="translate(1909.5 418.8) scale(0.915 1)" font-size="45.5" font-family="Liberation Serif, serif" fill="#000">R</text>
<text transform="translate(1936.5 397.0) scale(0.915 1)" font-size="35.0" font-family="Liberation Serif, serif" fill="#000">2</text>
<text transform="translate(1936.5 441.1) scale(0.94 1)" font-size="35.0" font-family="Liberation Serif, serif" fill="#000">CERES</text>
<text transform="translate(2039.5 418.8) scale(0.915 1)" font-size="45.5" font-family="Liberation Serif, serif" fill="#000">=0.55</text>
<text transform="translate(1911.2 510.5) scale(0.915 1)" font-size="45.5" font-family="Liberation Serif, serif" fill="#000">RMSE</text>
<text transform="translate(2026.0 532.0) scale(0.94 1)" font-size="35.0" font-family="Liberation Serif, serif" fill="#000">CERES</text>
<text transform="translate(2129.3 510.5) scale(0.915 1)" font-size="45.5" font-family="Liberation Serif, serif" fill="#000">=1.17</text>
<text transform="translate(2236.5 510.5) scale(0.915 1)" font-size="45.5" font-family="Liberation Serif, serif" fill="#000">(m</text><text transform="translate(2284.3 488.0) scale(0.915 1)" font-size="35.0" font-family="Liberation Serif, serif" fill="#000">2</text><text transform="translate(2300.9 510.5) scale(0.915 1)" font-size="45.5" font-family="Liberation Serif, serif" fill="#000">/m</text><text transform="translate(2345.2 488.0) scale(0.915 1)" font-size="35.0" font-family="Liberation Serif, serif" fill="#000">2</text><text transform="translate(2363.0 510.5) scale(0.915 1)" font-size="45.5" font-family="Liberation Serif, serif" fill="#000">)</text>
<text transform="translate(1917.2 582.4) scale(0.915 1)" font-size="45.5" font-family="Liberation Serif, serif" fill="#000">y</text>
<text transform="translate(1938.0 604.0) scale(0.94 1)" font-size="35.0" font-family="Liberation Serif, serif" fill="#000">CERES</text>
<text transform="translate(2041.5 582.4) scale(0.915 1)" font-size="45.5" font-family="Liberation Serif, serif" fill="#000">=0.54x+0.45</text>
<text transform="translate(2586.3 714.5) scale(0.915 1)" font-size="45.5" font-family="Liberation Serif, serif" fill="#000">R</text>
<text transform="translate(2613.5 692.7) scale(0.915 1)" font-size="35.0" font-family="Liberation Serif, serif" fill="#000">2</text>
<text transform="translate(2615.5 736.3) scale(0.94 1)" font-size="35.0" font-family="Liberation Serif, serif" fill="#000">ASS</text>
<text transform="translate(2675.0 714.5) scale(0.915 1)" font-size="45.5" font-family="Liberation Serif, serif" fill="#000">=0.90</text>
<text transform="translate(2580.8 795.1) scale(0.915 1)" font-size="45.5" font-family="Liberation Serif, serif" fill="#000">RMSE</text>
<text transform="translate(2695.3 817.0) scale(0.94 1)" font-size="35.0" font-family="Liberation Serif, serif" fill="#000">ASS</text>
<text transform="translate(2755.5 795.1) scale(0.915 1)" font-size="45.5" font-family="Liberation Serif, serif" fill="#000">=0.44</text>
<text transform="translate(2862.7 795.1) scale(0.915 1)" font-size="45.5" font-family="Liberation Serif, serif" fill="#000">(m</text><text transform="translate(2910.5 772.6) scale(0.915 1)" font-size="35.0" font-family="Liberation Serif, serif" fill="#000">2</text><text transform="translate(2927.1 795.1) scale(0.915 1)" font-size="45.5" font-family="Liberation Serif, serif" fill="#000">/m</text><text transform="translate(2971.4 772.6) scale(0.915 1)" font-size="35.0" font-family="Liberation Serif, serif" fill="#000">2</text><text transform="translate(2989.2 795.1) scale(0.915 1)" font-size="45.5" font-family="Liberation Serif, serif" fill="#000">)</text>
<text transform="translate(2585.3 875.8) scale(0.915 1)" font-size="45.5" font-family="Liberation Serif, serif" fill="#000">y</text>
<text transform="translate(2605.5 897.6) scale(0.94 1)" font-size="35.0" font-family="Liberation Serif, serif" fill="#000">ASS</text>
<text transform="translate(2665.3 875.8) scale(0.915 1)" font-size="45.5" font-family="Liberation Serif, serif" fill="#000">=0.90x+0.29</text>
<path d="M1889.6 743.1L1892.3 751.7L1900.8 751.8L1894.0 757.3L1896.5 766.0L1889.6 760.7L1882.8 766.0L1885.3 757.3L1878.5 751.8L1886.9 751.7zM1883.4 777.2L1886.1 785.8L1894.6 785.9L1887.8 791.3L1890.3 800.0L1883.4 794.8L1876.6 800.0L1879.1 791.3L1872.3 785.9L1880.7 785.8zM1876.3 795.7L1879.0 804.4L1887.4 804.5L1880.7 809.9L1883.2 818.6L1876.3 813.3L1869.4 818.6L1871.9 809.9L1865.2 804.5L1873.6 804.4zM1905.7 791.7L1908.4 800.3L1916.9 800.4L1910.1 805.9L1912.6 814.6L1905.7 809.3L1898.9 814.6L1901.4 805.9L1894.6 800.4L1903.0 800.3zM2047.5 695.1L2050.2 703.7L2058.7 703.8L2051.9 709.3L2054.4 718.0L2047.5 712.7L2040.6 718.0L2043.1 709.3L2036.4 703.8L2044.8 703.7zM2043.5 707.5L2046.2 716.1L2054.6 716.2L2047.9 721.7L2050.4 730.4L2043.5 725.1L2036.6 730.4L2039.1 721.7L2032.4 716.2L2040.8 716.1zM2066.7 721.4L2069.4 730.0L2077.8 730.2L2071.1 735.6L2073.6 744.3L2066.7 739.0L2059.8 744.3L2062.3 735.6L2055.6 730.2L2064.0 730.0zM1981.6 713.7L1984.3 722.3L1992.7 722.4L1986.0 727.9L1988.5 736.6L1981.6 731.3L1974.7 736.6L1977.2 727.9L1970.5 722.4L1978.9 722.3zM1978.5 732.3L1981.2 740.9L1989.6 741.0L1982.9 746.4L1985.4 755.1L1978.5 749.9L1971.6 755.1L1974.1 746.4L1967.4 741.0L1975.8 740.9zM2060.5 746.2L2063.2 754.8L2071.7 754.9L2064.9 760.4L2067.4 769.1L2060.5 763.8L2053.6 769.1L2056.2 760.4L2049.4 754.9L2057.8 754.8zM2052.8 753.9L2055.5 762.6L2063.9 762.7L2057.2 768.1L2059.7 776.8L2052.8 771.5L2045.9 776.8L2048.4 768.1L2041.7 762.7L2050.1 762.6zM2002.6 771.9L2005.3 780.5L2013.8 780.6L2007.0 786.1L2009.5 794.8L2002.6 789.5L1995.8 794.8L1998.3 786.1L1991.5 780.6L1999.9 780.5zM2024.0 766.9L2026.7 775.6L2035.1 775.7L2028.4 781.1L2030.9 789.8L2024.0 784.5L2017.1 789.8L2019.6 781.1L2012.9 775.7L2021.3 775.6zM2028.0 784.3L2030.7 792.9L2039.1 793.0L2032.4 798.5L2034.9 807.1L2028.0 801.9L2021.1 807.1L2023.6 798.5L2016.9 793.0L2025.3 792.9zM2028.0 801.0L2030.7 809.6L2039.1 809.7L2032.4 815.2L2034.9 823.9L2028.0 818.6L2021.1 823.9L2023.6 815.2L2016.9 809.7L2025.3 809.6zM2130.2 670.3L2132.9 679.0L2141.3 679.1L2134.6 684.5L2137.1 693.2L2130.2 688.0L2123.3 693.2L2125.8 684.5L2119.1 679.1L2127.5 679.0zM2147.2 664.2L2149.9 672.8L2158.3 672.9L2151.6 678.3L2154.1 687.0L2147.2 681.8L2140.3 687.0L2142.8 678.3L2136.1 672.9L2144.5 672.8zM2145.7 676.5L2148.4 685.2L2156.8 685.3L2150.0 690.7L2152.5 699.4L2145.7 694.1L2138.8 699.4L2141.3 690.7L2134.5 685.3L2143.0 685.2zM2162.7 684.3L2165.4 692.9L2173.8 693.0L2167.1 698.5L2169.6 707.1L2162.7 701.9L2155.8 707.1L2158.3 698.5L2151.6 693.0L2160.0 692.9zM2142.6 692.0L2145.3 700.6L2153.7 700.8L2146.9 706.2L2149.4 714.9L2142.6 709.6L2135.7 714.9L2138.2 706.2L2131.4 700.8L2139.9 700.6zM2130.2 699.8L2132.9 708.4L2141.3 708.5L2134.6 713.9L2137.1 722.6L2130.2 717.4L2123.3 722.6L2125.8 713.9L2119.1 708.5L2127.5 708.4zM2147.2 707.5L2149.9 716.1L2158.3 716.2L2151.6 721.7L2154.1 730.4L2147.2 725.1L2140.3 730.4L2142.8 721.7L2136.1 716.2L2144.5 716.1zM2111.6 721.4L2114.3 730.0L2122.7 730.2L2116.0 735.6L2118.5 744.3L2111.6 739.0L2104.7 744.3L2107.2 735.6L2100.5 730.2L2108.9 730.0zM2115.6 733.8L2118.3 742.4L2126.8 742.5L2120.0 748.0L2122.5 756.7L2115.6 751.4L2108.8 756.7L2111.3 748.0L2104.5 742.5L2112.9 742.4zM2107.0 771.0L2109.7 779.6L2118.1 779.7L2111.3 785.1L2113.8 793.8L2107.0 788.6L2100.1 793.8L2102.6 785.1L2095.8 779.7L2104.3 779.6zM2103.9 803.5L2106.6 812.1L2115.0 812.2L2108.2 817.6L2110.7 826.3L2103.9 821.1L2097.0 826.3L2099.5 817.6L2092.7 812.2L2101.2 812.1zM2140.1 793.3L2142.8 801.9L2151.2 802.0L2144.5 807.4L2147.0 816.1L2140.1 810.9L2133.2 816.1L2135.7 807.4L2129.0 802.0L2137.4 801.9zM2067.6 825.1L2070.4 833.8L2078.8 833.9L2072.0 839.3L2074.5 848.0L2067.6 842.8L2060.8 848.0L2063.3 839.3L2056.5 833.9L2064.9 833.8zM2142.6 829.8L2145.3 838.4L2153.7 838.5L2146.9 844.0L2149.4 852.6L2142.6 847.4L2135.7 852.6L2138.2 844.0L2131.4 838.5L2139.9 838.4zM2133.9 859.2L2136.6 867.8L2145.0 867.9L2138.3 873.4L2140.8 882.1L2133.9 876.8L2127.0 882.1L2129.5 873.4L2122.8 867.9L2131.2 867.8zM2182.8 737.8L2185.5 746.5L2193.9 746.6L2187.2 752.0L2189.7 760.7L2182.8 755.4L2175.9 760.7L2178.4 752.0L2171.7 746.6L2180.1 746.5zM2201.4 719.9L2204.1 728.5L2212.5 728.6L2205.8 734.1L2208.3 742.7L2201.4 737.5L2194.5 742.7L2197.0 734.1L2190.3 728.6L2198.7 728.5zM2208.5 703.5L2211.2 712.1L2219.6 712.2L2212.9 717.6L2215.4 726.3L2208.5 721.1L2201.6 726.3L2204.1 717.6L2197.4 712.2L2205.8 712.1zM2240.1 732.3L2242.8 740.9L2251.2 741.0L2244.5 746.4L2247.0 755.1L2240.1 749.9L2233.2 755.1L2235.7 746.4L2229.0 741.0L2237.4 740.9zM2235.4 662.6L2238.2 671.2L2246.6 671.3L2239.8 676.8L2242.3 685.5L2235.4 680.2L2228.6 685.5L2231.1 676.8L2224.3 671.3L2232.7 671.2zM2215.3 659.5L2218.0 668.1L2226.5 668.2L2219.7 673.7L2222.2 682.4L2215.3 677.1L2208.4 682.4L2211.0 673.7L2204.2 668.2L2212.6 668.1zM1986.2 859.2L1988.9 867.8L1997.4 867.9L1990.6 873.4L1993.1 882.1L1986.2 876.8L1979.3 882.1L1981.8 873.4L1975.1 867.9L1983.5 867.8zM1964.6 884.0L1967.3 892.6L1975.7 892.7L1968.9 898.1L1971.4 906.8L1964.6 901.6L1957.7 906.8L1960.2 898.1L1953.4 892.7L1961.8 892.6zM1977.6 885.5L1980.3 894.1L1988.7 894.2L1981.9 899.7L1984.4 908.4L1977.6 903.1L1970.7 908.4L1973.2 899.7L1966.4 894.2L1974.9 894.1zM1919.7 896.4L1922.4 905.0L1930.8 905.1L1924.0 910.5L1926.5 919.2L1919.7 914.0L1912.8 919.2L1915.3 910.5L1908.5 905.1L1917.0 905.0zM1934.2 907.2L1936.9 915.8L1945.3 915.9L1938.6 921.4L1941.1 930.0L1934.2 924.8L1927.3 930.0L1929.8 921.4L1923.1 915.9L1931.5 915.8zM1980.0 831.3L1982.7 840.0L1991.2 840.1L1984.4 845.5L1986.9 854.2L1980.0 848.9L1973.2 854.2L1975.7 845.5L1968.9 840.1L1977.3 840.0zM1929.3 783.1L1932.0 791.7L1940.4 791.8L1933.7 797.3L1936.2 806.0L1929.3 800.7L1922.4 806.0L1924.9 797.3L1918.2 791.8L1926.6 791.7zM1959.4 780.1L1962.1 788.7L1970.5 788.8L1963.8 794.3L1966.3 803.0L1959.4 797.7L1952.5 803.0L1955.0 794.3L1948.3 788.8L1956.7 788.7zM1945.4 794.1L1948.1 802.8L1956.5 802.9L1949.7 808.3L1952.2 817.0L1945.4 811.8L1938.5 817.0L1941.0 808.3L1934.2 802.9L1942.7 802.8zM1967.4 794.1L1970.2 802.8L1978.6 802.9L1971.8 808.3L1974.3 817.0L1967.4 811.8L1960.6 817.0L1963.1 808.3L1956.3 802.9L1964.7 802.8zM1921.3 804.2L1924.0 812.8L1932.4 812.9L1925.6 818.4L1928.1 827.0L1921.3 821.8L1914.4 827.0L1916.9 818.4L1910.1 812.9L1918.6 812.8zM1935.3 806.2L1938.0 814.8L1946.4 814.9L1939.7 820.4L1942.2 829.1L1935.3 823.8L1928.4 829.1L1930.9 820.4L1924.2 814.9L1932.6 814.8zM1951.4 808.2L1954.1 816.8L1962.5 816.9L1955.8 822.4L1958.3 831.1L1951.4 825.8L1944.5 831.1L1947.0 822.4L1940.3 816.9L1948.7 816.8zM1967.4 806.2L1970.2 814.8L1978.6 814.9L1971.8 820.4L1974.3 829.1L1967.4 823.8L1960.6 829.1L1963.1 820.4L1956.3 814.9L1964.7 814.8zM1977.5 800.2L1980.2 808.8L1988.6 808.9L1981.9 814.3L1984.4 823.0L1977.5 817.8L1970.6 823.0L1973.1 814.3L1966.4 808.9L1974.8 808.8zM1915.2 814.2L1917.9 822.8L1926.4 823.0L1919.6 828.4L1922.1 837.1L1915.2 831.8L1908.4 837.1L1910.9 828.4L1904.1 823.0L1912.5 822.8zM1924.7 796.8L1927.4 805.4L1935.8 805.5L1929.1 810.9L1931.6 819.6L1924.7 814.4L1917.8 819.6L1920.3 810.9L1913.6 805.5L1922.0 805.4zM1957.4 796.8L1960.1 805.4L1968.5 805.5L1961.8 810.9L1964.3 819.6L1957.4 814.4L1950.5 819.6L1953.0 810.9L1946.3 805.5L1954.7 805.4zM1939.5 814.6L1942.2 823.2L1950.7 823.4L1943.9 828.8L1946.4 837.5L1939.5 832.2L1932.7 837.5L1935.2 828.8L1928.4 823.4L1936.8 823.2zM1941.3 822.3L1944.0 830.9L1952.5 831.0L1945.7 836.4L1948.2 845.1L1941.3 839.9L1934.5 845.1L1937.0 836.4L1930.2 831.0L1938.6 830.9zM1955.4 824.3L1958.1 832.9L1966.5 833.0L1959.8 838.4L1962.3 847.1L1955.4 841.9L1948.5 847.1L1951.0 838.4L1944.3 833.0L1952.7 832.9zM1969.5 818.2L1972.2 826.9L1980.6 827.0L1973.8 832.4L1976.3 841.1L1969.5 835.8L1962.6 841.1L1965.1 832.4L1958.3 827.0L1966.8 826.9zM1909.8 854.8L1912.5 863.4L1920.9 863.5L1914.2 869.0L1916.7 877.7L1909.8 872.4L1902.9 877.7L1905.4 869.0L1898.7 863.5L1907.1 863.4zM1898.0 853.4L1900.7 862.0L1909.1 862.1L1902.3 867.6L1904.8 876.2L1898.0 871.0L1891.1 876.2L1893.6 867.6L1886.8 862.1L1895.3 862.0zM1933.3 838.3L1936.0 846.9L1944.4 847.1L1937.7 852.5L1940.2 861.2L1933.3 855.9L1926.4 861.2L1928.9 852.5L1922.2 847.1L1930.6 846.9zM1947.4 840.3L1950.1 849.0L1958.5 849.1L1951.7 854.5L1954.2 863.2L1947.4 857.9L1940.5 863.2L1943.0 854.5L1936.2 849.1L1944.7 849.0zM1963.4 836.3L1966.1 844.9L1974.6 845.0L1967.8 850.5L1970.3 859.2L1963.4 853.9L1956.6 859.2L1959.1 850.5L1952.3 845.0L1960.7 844.9zM1895.2 844.3L1897.9 853.0L1906.3 853.1L1899.5 858.5L1902.0 867.2L1895.2 862.0L1888.3 867.2L1890.8 858.5L1884.0 853.1L1892.5 853.0zM1907.2 848.4L1909.9 857.0L1918.3 857.1L1911.6 862.5L1914.1 871.2L1907.2 866.0L1900.3 871.2L1902.8 862.5L1896.1 857.1L1904.5 857.0zM1921.3 852.4L1924.0 861.0L1932.4 861.1L1925.6 866.6L1928.1 875.2L1921.3 870.0L1914.4 875.2L1916.9 866.6L1910.1 861.1L1918.6 861.0zM1935.3 854.4L1938.0 863.0L1946.4 863.1L1939.7 868.6L1942.2 877.2L1935.3 872.0L1928.4 877.2L1930.9 868.6L1924.2 863.1L1932.6 863.0zM1949.4 856.4L1952.1 865.0L1960.5 865.1L1953.8 870.6L1956.3 879.3L1949.4 874.0L1942.5 879.3L1945.0 870.6L1938.3 865.1L1946.7 865.0zM1889.1 860.4L1891.8 869.0L1900.3 869.1L1893.5 874.6L1896.0 883.3L1889.1 878.0L1882.3 883.3L1884.8 874.6L1878.0 869.1L1886.4 869.0zM1901.2 864.4L1903.9 873.0L1912.3 873.2L1905.6 878.6L1908.1 887.3L1901.2 882.0L1894.3 887.3L1896.8 878.6L1890.1 873.2L1898.5 873.0zM1913.2 868.4L1915.9 877.1L1924.4 877.2L1917.6 882.6L1920.1 891.3L1913.2 886.0L1906.4 891.3L1908.9 882.6L1902.1 877.2L1910.5 877.1zM1925.3 870.5L1928.0 879.1L1936.4 879.2L1929.7 884.6L1932.2 893.3L1925.3 888.1L1918.4 893.3L1920.9 884.6L1914.2 879.2L1922.6 879.1zM1939.3 868.4L1942.0 877.1L1950.5 877.2L1943.7 882.6L1946.2 891.3L1939.3 886.0L1932.5 891.3L1935.0 882.6L1928.2 877.2L1936.6 877.1zM1887.1 872.5L1889.8 881.1L1898.3 881.2L1891.5 886.6L1894.0 895.3L1887.1 890.1L1880.3 895.3L1882.8 886.6L1876.0 881.2L1884.4 881.1zM1905.2 876.5L1907.9 885.1L1916.3 885.2L1909.6 890.6L1912.1 899.3L1905.2 894.1L1898.3 899.3L1900.8 890.6L1894.1 885.2L1902.5 885.1zM1917.2 878.5L1920.0 887.1L1928.4 887.2L1921.6 892.7L1924.1 901.3L1917.2 896.1L1910.4 901.3L1912.9 892.7L1906.1 887.2L1914.5 887.1zM1931.3 876.5L1934.0 885.1L1942.4 885.2L1935.7 890.6L1938.2 899.3L1931.3 894.1L1924.4 899.3L1926.9 890.6L1920.2 885.2L1928.6 885.1zM2333.0 662.6L2335.7 671.2L2344.1 671.3L2337.3 676.8L2339.8 685.5L2333.0 680.2L2326.1 685.5L2328.6 676.8L2321.8 671.3L2330.3 671.2zM2372.3 659.5L2375.0 668.1L2383.4 668.2L2376.7 673.7L2379.2 682.4L2372.3 677.1L2365.4 682.4L2367.9 673.7L2361.2 668.2L2369.6 668.1zM2403.3 662.6L2406.0 671.2L2414.4 671.3L2407.6 676.8L2410.1 685.5L2403.3 680.2L2396.4 685.5L2398.9 676.8L2392.1 671.3L2400.5 671.2zM2273.2 693.6L2275.9 702.2L2284.3 702.3L2277.6 707.7L2280.1 716.4L2273.2 711.2L2266.3 716.4L2268.8 707.7L2262.1 702.3L2270.5 702.2zM2281.0 690.5L2283.7 699.1L2292.1 699.2L2285.3 704.6L2287.8 713.3L2281.0 708.1L2274.1 713.3L2276.6 704.6L2269.8 699.2L2278.3 699.1zM2305.7 696.7L2308.4 705.3L2316.9 705.4L2310.1 710.8L2312.6 719.5L2305.7 714.3L2298.9 719.5L2301.4 710.8L2294.6 705.4L2303.0 705.3zM2359.9 698.2L2362.6 706.8L2371.0 706.9L2364.3 712.4L2366.8 721.1L2359.9 715.8L2353.0 721.1L2355.5 712.4L2348.8 706.9L2357.2 706.8zM2383.1 697.6L2385.8 706.2L2394.3 706.3L2387.5 711.8L2390.0 720.5L2383.1 715.2L2376.2 720.5L2378.8 711.8L2372.0 706.3L2380.4 706.2zM2350.6 715.2L2353.3 723.9L2361.7 724.0L2355.0 729.4L2357.5 738.1L2350.6 732.8L2343.7 738.1L2346.2 729.4L2339.5 724.0L2347.9 723.9zM2260.8 736.9L2263.5 745.5L2272.0 745.6L2265.2 751.1L2267.7 759.8L2260.8 754.5L2254.0 759.8L2256.5 751.1L2249.7 745.6L2258.1 745.5zM2294.9 749.9L2297.6 758.5L2306.0 758.6L2299.3 764.1L2301.8 772.8L2294.9 767.5L2288.0 772.8L2290.5 764.1L2283.8 758.6L2292.2 758.5zM2596.4 611.4L2599.1 620.0L2607.6 620.2L2600.8 625.6L2603.3 634.3L2596.4 629.0L2589.6 634.3L2592.1 625.6L2585.3 620.2L2593.7 620.0zM2615.0 549.5L2617.7 558.1L2626.1 558.2L2619.4 563.7L2621.9 572.4L2615.0 567.1L2608.1 572.4L2610.6 563.7L2603.9 558.2L2612.3 558.1zM2766.5 373.5L2769.2 382.1L2777.6 382.2L2770.9 387.6L2773.4 396.3L2766.5 391.1L2759.6 396.3L2762.1 387.6L2755.4 382.2L2763.8 382.1zM2799.5 384.5L2802.2 393.1L2810.6 393.2L2803.9 398.6L2806.4 407.3L2799.5 402.1L2792.6 407.3L2795.1 398.6L2788.4 393.2L2796.8 393.1zM2784.8 395.5L2787.5 404.1L2796.0 404.2L2789.2 409.6L2791.7 418.3L2784.8 413.1L2778.0 418.3L2780.5 409.6L2773.7 404.2L2782.1 404.1zM2843.5 370.9L2846.2 379.5L2854.6 379.6L2847.9 385.1L2850.4 393.8L2843.5 388.5L2836.6 393.8L2839.1 385.1L2832.4 379.6L2840.8 379.5zM2918.0 387.0L2920.7 395.6L2929.1 395.8L2922.3 401.2L2924.8 409.9L2918.0 404.6L2911.1 409.9L2913.6 401.2L2906.8 395.8L2915.2 395.6zM2918.7 425.9L2921.4 434.5L2929.8 434.6L2923.1 440.1L2925.6 448.8L2918.7 443.5L2911.8 448.8L2914.3 440.1L2907.6 434.6L2916.0 434.5zM2788.5 445.0L2791.2 453.6L2799.6 453.7L2792.9 459.1L2795.4 467.8L2788.5 462.6L2781.6 467.8L2784.1 459.1L2777.4 453.7L2785.8 453.6zM2761.0 509.1L2763.7 517.8L2772.1 517.9L2765.4 523.3L2767.9 532.0L2761.0 526.7L2754.1 532.0L2756.6 523.3L2749.9 517.9L2758.3 517.8zM2456.8 398.8L2459.5 407.4L2467.9 407.5L2461.2 413.0L2463.7 421.7L2456.8 416.4L2449.9 421.7L2452.4 413.0L2445.7 407.5L2454.1 407.4zM2503.9 401.0L2506.6 409.6L2515.0 409.7L2508.2 415.1L2510.7 423.8L2503.9 418.6L2497.0 423.8L2499.5 415.1L2492.7 409.7L2501.2 409.6zM2541.6 415.8L2544.3 424.4L2552.8 424.6L2546.0 430.0L2548.5 438.7L2541.6 433.4L2534.8 438.7L2537.3 430.0L2530.5 424.6L2538.9 424.4zM2489.9 422.6L2492.6 431.3L2501.1 431.4L2494.3 436.8L2496.8 445.5L2489.9 440.2L2483.1 445.5L2485.6 436.8L2478.8 431.4L2487.2 431.3zM2448.1 428.2L2450.8 436.8L2459.3 436.9L2452.5 442.4L2455.0 451.1L2448.1 445.8L2441.3 451.1L2443.8 442.4L2437.0 436.9L2445.4 436.8zM2592.1 392.6L2594.8 401.2L2603.2 401.3L2596.5 406.8L2599.0 415.5L2592.1 410.2L2585.2 415.5L2587.7 406.8L2581.0 401.3L2589.4 401.2zM2620.0 389.5L2622.7 398.1L2631.1 398.2L2624.3 403.7L2626.8 412.4L2620.0 407.1L2613.1 412.4L2615.6 403.7L2608.8 398.2L2617.3 398.1zM2646.3 391.1L2649.0 399.7L2657.4 399.8L2650.7 405.2L2653.2 413.9L2646.3 408.7L2639.4 413.9L2641.9 405.2L2635.2 399.8L2643.6 399.7zM2584.4 412.7L2587.1 421.3L2595.5 421.5L2588.7 426.9L2591.2 435.6L2584.4 430.3L2577.5 435.6L2580.0 426.9L2573.2 421.5L2581.7 421.3zM2590.6 420.5L2593.3 429.1L2601.7 429.2L2594.9 434.6L2597.4 443.3L2590.6 438.1L2583.7 443.3L2586.2 434.6L2579.4 429.2L2587.9 429.1zM2606.0 425.1L2608.7 433.7L2617.2 433.8L2610.4 439.3L2612.9 448.0L2606.0 442.7L2599.2 448.0L2601.7 439.3L2594.9 433.8L2603.3 433.7zM2578.2 431.3L2580.9 439.9L2589.3 440.0L2582.5 445.5L2585.1 454.2L2578.2 448.9L2571.3 454.2L2573.8 445.5L2567.0 440.0L2575.5 439.9zM2471.4 440.6L2474.1 449.2L2482.5 449.3L2475.7 454.8L2478.2 463.5L2471.4 458.2L2464.5 463.5L2467.0 454.8L2460.2 449.3L2468.7 449.2zM2472.9 449.9L2475.6 458.5L2484.0 458.6L2477.3 464.1L2479.8 472.7L2472.9 467.5L2466.0 472.7L2468.5 464.1L2461.8 458.6L2470.2 458.5zM2551.9 443.7L2554.6 452.3L2563.0 452.4L2556.2 457.9L2558.7 466.6L2551.9 461.3L2545.0 466.6L2547.5 457.9L2540.7 452.4L2549.2 452.3zM2572.0 448.3L2574.7 457.0L2583.1 457.1L2576.4 462.5L2578.9 471.2L2572.0 465.9L2565.1 471.2L2567.6 462.5L2560.9 457.1L2569.3 457.0zM2632.4 437.5L2635.1 446.1L2643.5 446.2L2636.7 451.7L2639.2 460.4L2632.4 455.1L2625.5 460.4L2628.0 451.7L2621.2 446.2L2629.6 446.1zM2643.2 431.3L2645.9 439.9L2654.3 440.0L2647.6 445.5L2650.1 454.2L2643.2 448.9L2636.3 454.2L2638.8 445.5L2632.1 440.0L2640.5 439.9zM2627.7 454.5L2630.4 463.1L2638.8 463.3L2632.1 468.7L2634.6 477.4L2627.7 472.1L2620.8 477.4L2623.3 468.7L2616.6 463.3L2625.0 463.1zM2394.0 462.3L2396.7 470.9L2405.1 471.0L2398.3 476.4L2400.8 485.1L2394.0 479.9L2387.1 485.1L2389.6 476.4L2382.8 471.0L2391.3 470.9zM2511.6 460.7L2514.3 469.3L2522.7 469.5L2516.0 474.9L2518.5 483.6L2511.6 478.3L2504.7 483.6L2507.2 474.9L2500.5 469.5L2508.9 469.3zM2451.2 465.4L2453.9 474.0L2462.4 474.1L2455.6 479.5L2458.1 488.2L2451.2 483.0L2444.4 488.2L2446.9 479.5L2440.1 474.1L2448.5 474.0zM2429.6 466.9L2432.3 475.5L2440.7 475.6L2433.9 481.1L2436.4 489.8L2429.6 484.5L2422.7 489.8L2425.2 481.1L2418.4 475.6L2426.9 475.5zM2417.2 479.3L2419.9 487.9L2428.3 488.0L2421.6 493.5L2424.1 502.2L2417.2 496.9L2410.3 502.2L2412.8 493.5L2406.1 488.0L2414.5 487.9zM2472.9 465.4L2475.6 474.0L2484.0 474.1L2477.3 479.5L2479.8 488.2L2472.9 483.0L2466.0 488.2L2468.5 479.5L2461.8 474.1L2470.2 474.0zM2474.5 477.7L2477.2 486.4L2485.6 486.5L2478.8 491.9L2481.3 500.6L2474.5 495.4L2467.6 500.6L2470.1 491.9L2463.3 486.5L2471.8 486.4zM2590.6 460.7L2593.3 469.3L2601.7 469.5L2594.9 474.9L2597.4 483.6L2590.6 478.3L2583.7 483.6L2586.2 474.9L2579.4 469.5L2587.9 469.3zM2565.8 477.7L2568.5 486.4L2576.9 486.5L2570.2 491.9L2572.7 500.6L2565.8 495.4L2558.9 500.6L2561.4 491.9L2554.7 486.5L2563.1 486.4zM2599.8 476.2L2602.5 484.8L2611.0 484.9L2604.2 490.4L2606.7 499.1L2599.8 493.8L2593.0 499.1L2595.5 490.4L2588.7 484.9L2597.1 484.8zM2633.9 485.5L2636.6 494.1L2645.0 494.2L2638.3 499.7L2640.8 508.3L2633.9 503.1L2627.0 508.3L2629.5 499.7L2622.8 494.2L2631.2 494.1zM2352.2 482.4L2354.9 491.0L2363.3 491.1L2356.5 496.6L2359.0 505.2L2352.2 500.0L2345.3 505.2L2347.8 496.6L2341.0 491.1L2349.5 491.0zM2373.8 488.6L2376.5 497.2L2385.0 497.3L2378.2 502.8L2380.7 511.4L2373.8 506.2L2367.0 511.4L2369.5 502.8L2362.7 497.3L2371.1 497.2zM2432.7 493.2L2435.4 501.8L2443.8 502.0L2437.0 507.4L2439.5 516.1L2432.7 510.8L2425.8 516.1L2428.3 507.4L2421.5 502.0L2430.0 501.8zM2463.6 490.1L2466.3 498.7L2474.7 498.9L2468.0 504.3L2470.5 513.0L2463.6 507.7L2456.7 513.0L2459.2 504.3L2452.5 498.9L2460.9 498.7zM2507.0 487.0L2509.7 495.7L2518.1 495.8L2511.3 501.2L2513.8 509.9L2507.0 504.6L2500.1 509.9L2502.6 501.2L2495.8 495.8L2504.3 495.7zM2556.5 491.7L2559.2 500.3L2567.6 500.4L2560.9 505.9L2563.4 514.5L2556.5 509.3L2549.6 514.5L2552.1 505.9L2545.4 500.4L2553.8 500.3zM2270.1 513.4L2272.8 522.0L2281.3 522.1L2274.5 527.5L2277.0 536.2L2270.1 531.0L2263.2 536.2L2265.7 527.5L2259.0 522.1L2267.4 522.0zM2383.1 511.8L2385.8 520.4L2394.3 520.5L2387.5 526.0L2390.0 534.7L2383.1 529.4L2376.2 534.7L2378.8 526.0L2372.0 520.5L2380.4 520.4zM2389.3 521.1L2392.0 529.7L2400.4 529.8L2393.7 535.3L2396.2 543.9L2389.3 538.7L2382.4 543.9L2384.9 535.3L2378.2 529.8L2386.6 529.7zM2388.7 531.9L2391.4 540.5L2399.8 540.7L2393.1 546.1L2395.6 554.8L2388.7 549.5L2381.8 554.8L2384.3 546.1L2377.6 540.7L2386.0 540.5zM2348.5 521.1L2351.2 529.7L2359.6 529.8L2352.8 535.3L2355.3 543.9L2348.5 538.7L2341.6 543.9L2344.1 535.3L2337.3 529.8L2345.7 529.7zM2416.6 519.5L2419.3 528.2L2427.7 528.3L2420.9 533.7L2423.4 542.4L2416.6 537.1L2409.7 542.4L2412.2 533.7L2405.4 528.3L2413.9 528.2zM2440.4 513.4L2443.1 522.0L2451.5 522.1L2444.8 527.5L2447.3 536.2L2440.4 531.0L2433.5 536.2L2436.0 527.5L2429.3 522.1L2437.7 522.0zM2479.1 511.8L2481.8 520.4L2490.2 520.5L2483.5 526.0L2486.0 534.7L2479.1 529.4L2472.2 534.7L2474.7 526.0L2468.0 520.5L2476.4 520.4zM2510.1 504.1L2512.8 512.7L2521.2 512.8L2514.4 518.2L2516.9 526.9L2510.1 521.7L2503.2 526.9L2505.7 518.2L2498.9 512.8L2507.4 512.7zM2541.0 507.2L2543.7 515.8L2552.1 515.9L2545.4 521.3L2547.9 530.0L2541.0 524.8L2534.1 530.0L2536.6 521.3L2529.9 515.9L2538.3 515.8zM2555.0 511.8L2557.7 520.4L2566.1 520.5L2559.3 526.0L2561.8 534.7L2555.0 529.4L2548.1 534.7L2550.6 526.0L2543.8 520.5L2552.2 520.4zM2608.5 511.2L2611.2 519.8L2619.6 519.9L2612.9 525.4L2615.4 534.0L2608.5 528.8L2601.6 534.0L2604.1 525.4L2597.4 519.9L2605.8 519.8zM2517.8 524.2L2520.5 532.8L2528.9 532.9L2522.2 538.4L2524.7 547.0L2517.8 541.8L2510.9 547.0L2513.4 538.4L2506.7 532.9L2515.1 532.8zM2502.3 531.9L2505.0 540.5L2513.4 540.7L2506.7 546.1L2509.2 554.8L2502.3 549.5L2495.4 554.8L2497.9 546.1L2491.2 540.7L2499.6 540.5zM2547.2 536.6L2549.9 545.2L2558.3 545.3L2551.6 550.7L2554.1 559.4L2547.2 554.2L2540.3 559.4L2542.8 550.7L2536.1 545.3L2544.5 545.2zM2559.6 533.5L2562.3 542.1L2570.7 542.2L2564.0 547.6L2566.5 556.3L2559.6 551.1L2552.7 556.3L2555.2 547.6L2548.5 542.2L2556.9 542.1zM2573.5 531.9L2576.2 540.5L2584.7 540.7L2577.9 546.1L2580.4 554.8L2573.5 549.5L2566.7 554.8L2569.2 546.1L2562.4 540.7L2570.8 540.5zM2643.2 530.4L2645.9 539.0L2654.3 539.1L2647.6 544.6L2650.1 553.2L2643.2 548.0L2636.3 553.2L2638.8 544.6L2632.1 539.1L2640.5 539.0zM2314.4 549.0L2317.1 557.6L2325.5 557.7L2318.8 563.1L2321.3 571.8L2314.4 566.6L2307.5 571.8L2310.0 563.1L2303.3 557.7L2311.7 557.6zM2460.5 539.7L2463.2 548.3L2471.7 548.4L2464.9 553.8L2467.4 562.5L2460.5 557.3L2453.6 562.5L2456.2 553.8L2449.4 548.4L2457.8 548.3zM2474.5 547.4L2477.2 556.0L2485.6 556.1L2478.8 561.6L2481.3 570.3L2474.5 565.0L2467.6 570.3L2470.1 561.6L2463.3 556.1L2471.8 556.0zM2503.9 547.4L2506.6 556.0L2515.0 556.1L2508.2 561.6L2510.7 570.3L2503.9 565.0L2497.0 570.3L2499.5 561.6L2492.7 556.1L2501.2 556.0zM2525.5 552.1L2528.2 560.7L2536.7 560.8L2529.9 566.2L2532.4 574.9L2525.5 569.7L2518.7 574.9L2521.2 566.2L2514.4 560.8L2522.8 560.7zM2459.0 556.7L2461.7 565.3L2470.1 565.4L2463.4 570.9L2465.9 579.6L2459.0 574.3L2452.1 579.6L2454.6 570.9L2447.9 565.4L2456.3 565.3zM2291.8 562.9L2294.5 571.5L2302.9 571.6L2296.2 577.1L2298.7 585.7L2291.8 580.5L2284.9 585.7L2287.4 577.1L2280.7 571.6L2289.1 571.5zM2290.2 573.7L2293.0 582.3L2301.4 582.5L2294.6 587.9L2297.1 596.6L2290.2 591.3L2283.4 596.6L2285.9 587.9L2279.1 582.5L2287.5 582.3zM2342.9 569.1L2345.6 577.7L2354.0 577.8L2347.3 583.2L2349.8 591.9L2342.9 586.7L2336.0 591.9L2338.5 583.2L2331.8 577.8L2340.2 577.7zM2333.6 576.8L2336.3 585.4L2344.7 585.5L2338.0 591.0L2340.5 599.7L2333.6 594.4L2326.7 599.7L2329.2 591.0L2322.5 585.5L2330.9 585.4zM2364.6 566.0L2367.3 574.6L2375.7 574.7L2368.9 580.2L2371.4 588.8L2364.6 583.6L2357.7 588.8L2360.2 580.2L2353.4 574.7L2361.8 574.6zM2376.9 562.9L2379.6 571.5L2388.1 571.6L2381.3 577.1L2383.8 585.7L2376.9 580.5L2370.1 585.7L2372.6 577.1L2365.8 571.6L2374.2 571.5zM2386.2 576.8L2388.9 585.4L2397.4 585.5L2390.6 591.0L2393.1 599.7L2386.2 594.4L2379.3 599.7L2381.8 591.0L2375.1 585.5L2383.5 585.4zM2423.4 569.1L2426.1 577.7L2434.5 577.8L2427.7 583.2L2430.3 591.9L2423.4 586.7L2416.5 591.9L2419.0 583.2L2412.2 577.8L2420.7 577.7zM2429.6 561.3L2432.3 570.0L2440.7 570.1L2433.9 575.5L2436.4 584.2L2429.6 578.9L2422.7 584.2L2425.2 575.5L2418.4 570.1L2426.9 570.0zM2432.7 573.7L2435.4 582.3L2443.8 582.5L2437.0 587.9L2439.5 596.6L2432.7 591.3L2425.8 596.6L2428.3 587.9L2421.5 582.5L2430.0 582.3zM2454.3 576.8L2457.0 585.4L2465.5 585.5L2458.7 591.0L2461.2 599.7L2454.3 594.4L2447.5 599.7L2450.0 591.0L2443.2 585.5L2451.6 585.4zM2440.4 589.2L2443.1 597.8L2451.5 597.9L2444.8 603.4L2447.3 612.1L2440.4 606.8L2433.5 612.1L2436.0 603.4L2429.3 597.9L2437.7 597.8zM2451.2 583.0L2453.9 591.6L2462.4 591.7L2455.6 597.2L2458.1 605.9L2451.2 600.6L2444.4 605.9L2446.9 597.2L2440.1 591.7L2448.5 591.6zM2474.5 589.2L2477.2 597.8L2485.6 597.9L2478.8 603.4L2481.3 612.1L2474.5 606.8L2467.6 612.1L2470.1 603.4L2463.3 597.9L2471.8 597.8zM2525.5 566.0L2528.2 574.6L2536.7 574.7L2529.9 580.2L2532.4 588.8L2525.5 583.6L2518.7 588.8L2521.2 580.2L2514.4 574.7L2522.8 574.6zM2531.7 576.8L2534.4 585.4L2542.9 585.5L2536.1 591.0L2538.6 599.7L2531.7 594.4L2524.9 599.7L2527.4 591.0L2520.6 585.5L2529.0 585.4zM2254.6 590.8L2257.3 599.4L2265.8 599.5L2259.0 604.9L2261.5 613.6L2254.6 608.4L2247.8 613.6L2250.3 604.9L2243.5 599.5L2251.9 599.4zM2310.4 590.8L2313.1 599.4L2321.5 599.5L2314.7 604.9L2317.2 613.6L2310.4 608.4L2303.5 613.6L2306.0 604.9L2299.2 599.5L2307.7 599.4zM2293.3 600.0L2296.0 608.7L2304.5 608.8L2297.7 614.2L2300.2 622.9L2293.3 617.6L2286.5 622.9L2289.0 614.2L2282.2 608.8L2290.6 608.7zM2315.0 601.6L2317.7 610.2L2326.1 610.3L2319.4 615.8L2321.9 624.4L2315.0 619.2L2308.1 624.4L2310.6 615.8L2303.9 610.3L2312.3 610.2zM2327.4 610.9L2330.1 619.5L2338.5 619.6L2331.8 625.0L2334.3 633.7L2327.4 628.5L2320.5 633.7L2323.0 625.0L2316.3 619.6L2324.7 619.5zM2358.4 601.6L2361.1 610.2L2369.5 610.3L2362.7 615.8L2365.2 624.4L2358.4 619.2L2351.5 624.4L2354.0 615.8L2347.2 610.3L2355.7 610.2zM2361.5 610.9L2364.2 619.5L2372.6 619.6L2365.8 625.0L2368.3 633.7L2361.5 628.5L2354.6 633.7L2357.1 625.0L2350.3 619.6L2358.8 619.5zM2407.9 607.8L2410.6 616.4L2419.0 616.5L2412.3 621.9L2414.8 630.6L2407.9 625.4L2401.0 630.6L2403.5 621.9L2396.8 616.5L2405.2 616.4zM2414.1 618.6L2416.8 627.2L2425.2 627.3L2418.5 632.8L2421.0 641.5L2414.1 636.2L2407.2 641.5L2409.7 632.8L2403.0 627.3L2411.4 627.2zM2463.6 601.6L2466.3 610.2L2474.7 610.3L2468.0 615.8L2470.5 624.4L2463.6 619.2L2456.7 624.4L2459.2 615.8L2452.5 610.3L2460.9 610.2zM2477.6 600.0L2480.3 608.7L2488.7 608.8L2481.9 614.2L2484.4 622.9L2477.6 617.6L2470.7 622.9L2473.2 614.2L2466.4 608.8L2474.9 608.7zM2517.8 601.6L2520.5 610.2L2528.9 610.3L2522.2 615.8L2524.7 624.4L2517.8 619.2L2510.9 624.4L2513.4 615.8L2506.7 610.3L2515.1 610.2zM2307.3 626.4L2310.0 635.0L2318.4 635.1L2311.7 640.5L2314.2 649.2L2307.3 644.0L2300.4 649.2L2302.9 640.5L2296.1 635.1L2304.6 635.0zM2302.6 635.6L2305.3 644.3L2313.8 644.4L2307.0 649.8L2309.5 658.5L2302.6 653.2L2295.8 658.5L2298.3 649.8L2291.5 644.4L2299.9 644.3zM2315.0 638.7L2317.7 647.4L2326.1 647.5L2319.4 652.9L2321.9 661.6L2315.0 656.3L2308.1 661.6L2310.6 652.9L2303.9 647.5L2312.3 647.4zM2322.8 644.9L2325.5 653.5L2333.9 653.7L2327.1 659.1L2329.6 667.8L2322.8 662.5L2315.9 667.8L2318.4 659.1L2311.6 653.7L2320.1 653.5zM2356.8 632.5L2359.5 641.2L2367.9 641.3L2361.2 646.7L2363.7 655.4L2356.8 650.2L2349.9 655.4L2352.4 646.7L2345.7 641.3L2354.1 641.2zM2429.6 631.0L2432.3 639.6L2440.7 639.7L2433.9 645.2L2436.4 653.9L2429.6 648.6L2422.7 653.9L2425.2 645.2L2418.4 639.7L2426.9 639.6zM2254.6 640.3L2257.3 648.9L2265.8 649.0L2259.0 654.5L2261.5 663.1L2254.6 657.9L2247.8 663.1L2250.3 654.5L2243.5 649.0L2251.9 648.9zM2235.4 597.9L2238.2 606.5L2246.6 606.6L2239.8 612.0L2242.3 620.7L2235.4 615.5L2228.6 620.7L2231.1 612.0L2224.3 606.6L2232.7 606.5zM2059.0 643.4L2061.7 652.0L2070.1 652.1L2063.4 657.6L2065.9 666.2L2059.0 661.0L2052.1 666.2L2054.6 657.6L2047.9 652.1L2056.3 652.0zM2113.2 643.4L2115.9 652.0L2124.3 652.1L2117.5 657.6L2120.0 666.2L2113.2 661.0L2106.3 666.2L2108.8 657.6L2102.0 652.1L2110.5 652.0zM2020.3 651.1L2023.0 659.7L2031.4 659.9L2024.7 665.3L2027.2 674.0L2020.3 668.7L2013.4 674.0L2015.9 665.3L2009.2 659.9L2017.6 659.7zM2148.8 654.2L2151.5 662.8L2159.9 662.9L2153.1 668.4L2155.6 677.1L2148.8 671.8L2141.9 677.1L2144.4 668.4L2137.6 662.9L2146.1 662.8zM2209.1 644.9L2211.8 653.5L2220.3 653.7L2213.5 659.1L2216.0 667.8L2209.1 662.5L2202.3 667.8L2204.8 659.1L2198.0 653.7L2206.4 653.5zM2216.9 641.8L2219.6 650.5L2228.0 650.6L2221.2 656.0L2223.8 664.7L2216.9 659.4L2210.0 664.7L2212.5 656.0L2205.7 650.6L2214.2 650.5zM2716.6 398.8L2719.3 407.4L2727.7 407.5L2720.9 413.0L2723.4 421.7L2716.6 416.4L2709.7 421.7L2712.2 413.0L2705.4 407.5L2713.9 407.4zM2733.6 391.1L2736.3 399.7L2744.7 399.8L2738.0 405.2L2740.5 413.9L2733.6 408.7L2726.7 413.9L2729.2 405.2L2722.5 399.8L2730.9 399.7zM2710.4 418.9L2713.1 427.5L2721.5 427.7L2714.7 433.1L2717.2 441.8L2710.4 436.5L2703.5 441.8L2706.0 433.1L2699.2 427.7L2707.7 427.5zM2718.1 429.8L2720.8 438.4L2729.2 438.5L2722.5 443.9L2725.0 452.6L2718.1 447.4L2711.2 452.6L2713.7 443.9L2707.0 438.5L2715.4 438.4zM2711.9 443.7L2714.6 452.3L2723.0 452.4L2716.3 457.9L2718.8 466.6L2711.9 461.3L2705.0 466.6L2707.5 457.9L2700.8 452.4L2709.2 452.3zM2724.3 457.6L2727.0 466.2L2735.4 466.4L2728.7 471.8L2731.2 480.5L2724.3 475.2L2717.4 480.5L2719.9 471.8L2713.2 466.4L2721.6 466.2zM2684.1 420.5L2686.8 429.1L2695.2 429.2L2688.4 434.6L2690.9 443.3L2684.1 438.1L2677.2 443.3L2679.7 434.6L2672.9 429.2L2681.4 429.1zM2668.6 414.3L2671.3 422.9L2679.7 423.0L2673.0 428.5L2675.5 437.1L2668.6 431.9L2661.7 437.1L2664.2 428.5L2657.4 423.0L2665.9 422.9zM2676.3 401.9L2679.0 410.5L2687.4 410.6L2680.7 416.1L2683.2 424.8L2676.3 419.5L2669.4 424.8L2671.9 416.1L2665.2 410.6L2673.6 410.5zM2659.3 440.6L2662.0 449.2L2670.4 449.3L2663.7 454.8L2666.2 463.5L2659.3 458.2L2652.4 463.5L2654.9 454.8L2648.2 449.3L2656.6 449.2zM2665.5 451.4L2668.2 460.0L2676.6 460.2L2669.9 465.6L2672.4 474.3L2665.5 469.0L2658.6 474.3L2661.1 465.6L2654.4 460.2L2662.8 460.0zM2657.7 463.8L2660.4 472.4L2668.9 472.5L2662.1 478.0L2664.6 486.7L2657.7 481.4L2650.9 486.7L2653.4 478.0L2646.6 472.5L2655.0 472.4zM2673.2 454.5L2675.9 463.1L2684.3 463.3L2677.6 468.7L2680.1 477.4L2673.2 472.1L2666.3 477.4L2668.8 468.7L2662.1 463.3L2670.5 463.1zM2701.1 494.8L2703.8 503.4L2712.2 503.5L2705.5 508.9L2708.0 517.6L2701.1 512.4L2694.2 517.6L2696.7 508.9L2690.0 503.5L2698.4 503.4zM2842.0 167.5L2844.7 176.1L2853.1 176.2L2846.3 181.7L2848.8 190.4L2842.0 185.1L2835.1 190.4L2837.6 181.7L2830.8 176.2L2839.2 176.1zM2756.8 201.6L2759.5 210.2L2767.9 210.3L2761.2 215.7L2763.7 224.4L2756.8 219.2L2749.9 224.4L2752.4 215.7L2745.7 210.3L2754.1 210.2zM2778.5 200.0L2781.2 208.6L2789.6 208.7L2782.9 214.2L2785.4 222.9L2778.5 217.6L2771.6 222.9L2774.1 214.2L2767.4 208.7L2775.8 208.6zM2769.2 210.8L2771.9 219.5L2780.3 219.6L2773.6 225.0L2776.1 233.7L2769.2 228.4L2762.3 233.7L2764.8 225.0L2758.1 219.6L2766.5 219.5zM2812.5 209.3L2815.2 217.9L2823.7 218.0L2816.9 223.5L2819.4 232.2L2812.5 226.9L2805.7 232.2L2808.2 223.5L2801.4 218.0L2809.8 217.9zM2831.1 218.6L2833.8 227.2L2842.2 227.3L2835.5 232.8L2838.0 241.4L2831.1 236.2L2824.2 241.4L2826.7 232.8L2820.0 227.3L2828.4 227.2zM2843.5 215.5L2846.2 224.1L2854.6 224.2L2847.9 229.7L2850.4 238.3L2843.5 233.1L2836.6 238.3L2839.1 229.7L2832.4 224.2L2840.8 224.1zM2851.2 234.1L2853.9 242.7L2862.4 242.8L2855.6 248.2L2858.1 256.9L2851.2 251.7L2844.4 256.9L2846.9 248.2L2840.1 242.8L2848.5 242.7zM2863.6 240.3L2866.3 248.9L2874.7 249.0L2868.0 254.4L2870.5 263.1L2863.6 257.9L2856.7 263.1L2859.2 254.4L2852.5 249.0L2860.9 248.9zM2869.8 248.0L2872.5 256.6L2880.9 256.7L2874.2 262.2L2876.7 270.9L2869.8 265.6L2862.9 270.9L2865.4 262.2L2858.7 256.7L2867.1 256.6zM2880.7 251.1L2883.4 259.7L2891.8 259.8L2885.0 265.3L2887.5 273.9L2880.7 268.7L2873.8 273.9L2876.3 265.3L2869.5 259.8L2877.9 259.7zM2857.4 260.4L2860.1 269.0L2868.6 269.1L2861.8 274.6L2864.3 283.2L2857.4 278.0L2850.6 283.2L2853.1 274.6L2846.3 269.1L2854.7 269.0zM2866.7 263.5L2869.4 272.1L2877.8 272.2L2871.1 277.6L2873.6 286.3L2866.7 281.1L2859.8 286.3L2862.3 277.6L2855.6 272.2L2864.0 272.1zM2896.1 201.6L2898.8 210.2L2907.3 210.3L2900.5 215.7L2903.0 224.4L2896.1 219.2L2889.3 224.4L2891.8 215.7L2885.0 210.3L2893.4 210.2zM2920.9 184.5L2923.6 193.1L2932.0 193.3L2925.3 198.7L2927.8 207.4L2920.9 202.1L2914.0 207.4L2916.5 198.7L2909.8 193.3L2918.2 193.1zM2930.2 190.7L2932.9 199.3L2941.3 199.5L2934.6 204.9L2937.1 213.6L2930.2 208.3L2923.3 213.6L2925.8 204.9L2919.1 199.5L2927.5 199.3zM2913.2 212.4L2915.9 221.0L2924.3 221.1L2917.5 226.6L2920.0 235.2L2913.2 230.0L2906.3 235.2L2908.8 226.6L2902.0 221.1L2910.5 221.0zM2936.4 218.6L2939.1 227.2L2947.5 227.3L2940.8 232.8L2943.3 241.4L2936.4 236.2L2929.5 241.4L2932.0 232.8L2925.3 227.3L2933.7 227.2zM2931.7 244.9L2934.4 253.5L2942.9 253.6L2936.1 259.1L2938.6 267.8L2931.7 262.5L2924.9 267.8L2927.4 259.1L2920.6 253.6L2929.0 253.5zM2944.1 238.7L2946.8 247.3L2955.2 247.4L2948.5 252.9L2951.0 261.6L2944.1 256.3L2937.2 261.6L2939.7 252.9L2933.0 247.4L2941.4 247.3zM2959.6 263.5L2962.3 272.1L2970.7 272.2L2964.0 277.6L2966.5 286.3L2959.6 281.1L2952.7 286.3L2955.2 277.6L2948.5 272.2L2956.9 272.1zM2939.5 272.8L2942.2 281.4L2950.6 281.5L2943.8 286.9L2946.4 295.6L2939.5 290.4L2932.6 295.6L2935.1 286.9L2928.3 281.5L2936.8 281.4zM2955.0 303.7L2957.7 312.3L2966.1 312.5L2959.3 317.9L2961.8 326.6L2955.0 321.3L2948.1 326.6L2950.6 317.9L2943.8 312.5L2952.2 312.3zM2721.8 258.8L2724.5 267.4L2733.0 267.6L2726.2 273.0L2728.7 281.7L2721.8 276.4L2714.9 281.7L2717.5 273.0L2710.7 267.6L2719.1 267.4zM2767.0 271.2L2769.7 279.8L2778.2 279.9L2771.4 285.4L2773.9 294.1L2767.0 288.8L2760.2 294.1L2762.7 285.4L2755.9 279.9L2764.3 279.8zM2796.1 263.5L2798.8 272.1L2807.3 272.2L2800.5 277.6L2803.0 286.3L2796.1 281.1L2789.3 286.3L2791.8 277.6L2785.0 272.2L2793.4 272.1zM2806.3 277.4L2809.1 286.0L2817.5 286.1L2810.7 291.6L2813.2 300.3L2806.3 295.0L2799.5 300.3L2802.0 291.6L2795.2 286.1L2803.6 286.0zM2798.6 286.7L2801.3 295.3L2809.7 295.4L2803.0 300.9L2805.5 309.6L2798.6 304.3L2791.7 309.6L2794.2 300.9L2787.5 295.4L2795.9 295.3zM2793.0 297.5L2795.7 306.1L2804.2 306.3L2797.4 311.7L2799.9 320.4L2793.0 315.1L2786.2 320.4L2788.7 311.7L2781.9 306.3L2790.3 306.1zM2719.7 288.2L2722.4 296.9L2730.8 297.0L2724.0 302.4L2726.5 311.1L2719.7 305.8L2712.8 311.1L2715.3 302.4L2708.5 297.0L2717.0 296.9zM2736.7 300.6L2739.4 309.2L2747.8 309.4L2741.1 314.8L2743.6 323.5L2736.7 318.2L2729.8 323.5L2732.3 314.8L2725.6 309.4L2734.0 309.2zM2764.6 296.0L2767.3 304.6L2775.7 304.7L2768.9 310.2L2771.4 318.8L2764.6 313.6L2757.7 318.8L2760.2 310.2L2753.4 304.7L2761.8 304.6zM2770.7 303.7L2773.4 312.3L2781.9 312.5L2775.1 317.9L2777.6 326.6L2770.7 321.3L2763.9 326.6L2766.4 317.9L2759.6 312.5L2768.0 312.3zM2670.1 288.2L2672.8 296.9L2681.3 297.0L2674.5 302.4L2677.0 311.1L2670.1 305.8L2663.2 311.1L2665.7 302.4L2659.0 297.0L2667.4 296.9zM2676.3 302.2L2679.0 310.8L2687.4 310.9L2680.7 316.3L2683.2 325.0L2676.3 319.8L2669.4 325.0L2671.9 316.3L2665.2 310.9L2673.6 310.8zM2701.1 309.9L2703.8 318.5L2712.2 318.6L2705.5 324.1L2708.0 332.8L2701.1 327.5L2694.2 332.8L2696.7 324.1L2690.0 318.6L2698.4 318.5zM2729.9 322.3L2732.6 330.9L2741.0 331.0L2734.3 336.5L2736.8 345.2L2729.9 339.9L2723.0 345.2L2725.5 336.5L2718.7 331.0L2727.2 330.9zM2764.6 326.9L2767.3 335.6L2775.7 335.7L2768.9 341.1L2771.4 349.8L2764.6 344.5L2757.7 349.8L2760.2 341.1L2753.4 335.7L2761.8 335.6zM2826.5 305.3L2829.2 313.9L2837.6 314.0L2830.8 319.4L2833.3 328.1L2826.5 322.9L2819.6 328.1L2822.1 319.4L2815.3 314.0L2823.8 313.9zM2831.1 316.1L2833.8 324.7L2842.2 324.8L2835.5 330.3L2838.0 339.0L2831.1 333.7L2824.2 339.0L2826.7 330.3L2820.0 324.8L2828.4 324.7zM2893.0 292.9L2895.7 301.5L2904.2 301.6L2897.4 307.1L2899.9 315.7L2893.0 310.5L2886.2 315.7L2888.7 307.1L2881.9 301.6L2890.3 301.5zM2919.3 292.9L2922.1 301.5L2930.5 301.6L2923.7 307.1L2926.2 315.7L2919.3 310.5L2912.5 315.7L2915.0 307.1L2908.2 301.6L2916.6 301.5zM2930.2 296.0L2932.9 304.6L2941.3 304.7L2934.6 310.2L2937.1 318.8L2930.2 313.6L2923.3 318.8L2925.8 310.2L2919.1 304.7L2927.5 304.6zM2907.0 303.7L2909.7 312.3L2918.1 312.5L2911.3 317.9L2913.8 326.6L2907.0 321.3L2900.1 326.6L2902.6 317.9L2895.8 312.5L2904.3 312.3zM2903.9 313.0L2906.6 321.6L2915.0 321.7L2908.2 327.2L2910.7 335.9L2903.9 330.6L2897.0 335.9L2899.5 327.2L2892.7 321.7L2901.2 321.6zM2660.8 323.8L2663.5 332.5L2672.0 332.6L2665.2 338.0L2667.7 346.7L2660.8 341.5L2654.0 346.7L2656.5 338.0L2649.7 332.6L2658.1 332.5zM2668.6 331.6L2671.3 340.2L2679.7 340.3L2673.0 345.8L2675.5 354.4L2668.6 349.2L2661.7 354.4L2664.2 345.8L2657.4 340.3L2665.9 340.2zM2679.4 320.8L2682.1 329.4L2690.5 329.5L2683.8 334.9L2686.3 343.6L2679.4 338.4L2672.5 343.6L2675.0 334.9L2668.3 329.5L2676.7 329.4zM2891.5 330.0L2894.2 338.7L2902.6 338.8L2895.9 344.2L2898.4 352.9L2891.5 347.6L2884.6 352.9L2887.1 344.2L2880.4 338.8L2888.8 338.7zM2905.4 334.7L2908.1 343.3L2916.5 343.4L2909.8 348.9L2912.3 357.5L2905.4 352.3L2898.5 357.5L2901.0 348.9L2894.3 343.4L2902.7 343.3zM2913.2 331.6L2915.9 340.2L2924.3 340.3L2917.5 345.8L2920.0 354.4L2913.2 349.2L2906.3 354.4L2908.8 345.8L2902.0 340.3L2910.5 340.2zM2933.3 337.8L2936.0 346.4L2944.4 346.5L2937.7 351.9L2940.2 360.6L2933.3 355.4L2926.4 360.6L2928.9 351.9L2922.2 346.5L2930.6 346.4zM2881.6 347.1L2884.3 355.7L2892.7 355.8L2886.0 361.2L2888.5 369.9L2881.6 364.7L2874.7 369.9L2877.2 361.2L2870.5 355.8L2878.9 355.7zM2913.2 345.5L2915.9 354.1L2924.3 354.2L2917.5 359.7L2920.0 368.4L2913.2 363.1L2906.3 368.4L2908.8 359.7L2902.0 354.2L2910.5 354.1zM2903.9 357.9L2906.6 366.5L2915.0 366.6L2908.2 372.1L2910.7 380.8L2903.9 375.5L2897.0 380.8L2899.5 372.1L2892.7 366.6L2901.2 366.5zM2708.2 345.5L2710.9 354.1L2719.3 354.2L2712.6 359.7L2715.1 368.4L2708.2 363.1L2701.3 368.4L2703.8 359.7L2697.1 354.2L2705.5 354.1zM2781.6 340.9L2784.3 349.5L2792.7 349.6L2786.0 355.0L2788.5 363.7L2781.6 358.5L2774.7 363.7L2777.2 355.0L2770.5 349.6L2778.9 349.5zM2670.1 356.4L2672.8 365.0L2681.3 365.1L2674.5 370.5L2677.0 379.2L2670.1 374.0L2663.2 379.2L2665.7 370.5L2659.0 365.1L2667.4 365.0zM2662.4 365.6L2665.1 374.3L2673.5 374.4L2666.8 379.8L2669.3 388.5L2662.4 383.2L2655.5 388.5L2658.0 379.8L2651.3 374.4L2659.7 374.3zM2701.1 367.2L2703.8 375.8L2712.2 375.9L2705.5 381.4L2708.0 390.0L2701.1 384.8L2694.2 390.0L2696.7 381.4L2690.0 375.9L2698.4 375.8zM2814.1 357.9L2816.8 366.5L2825.2 366.6L2818.5 372.1L2821.0 380.8L2814.1 375.5L2807.2 380.8L2809.7 372.1L2803.0 366.6L2811.4 366.5zM2681.0 381.1L2683.7 389.7L2692.1 389.9L2685.3 395.3L2687.8 404.0L2681.0 398.7L2674.1 404.0L2676.6 395.3L2669.8 389.9L2678.3 389.7zM2654.6 374.9L2657.3 383.5L2665.8 383.7L2659.0 389.1L2661.5 397.8L2654.6 392.5L2647.8 397.8L2650.3 389.1L2643.5 383.7L2651.9 383.5zM2619.1 338.3L2621.8 346.9L2630.2 347.1L2623.4 352.5L2625.9 361.2L2619.1 355.9L2612.2 361.2L2614.7 352.5L2607.9 347.1L2616.4 346.9zM2629.6 331.7L2632.3 340.3L2640.7 340.5L2634.0 345.9L2636.5 354.6L2629.6 349.3L2622.7 354.6L2625.2 345.9L2618.5 340.5L2626.9 340.3zM2511.4 362.1L2514.1 370.7L2522.6 370.8L2515.8 376.2L2518.3 384.9L2511.4 379.7L2504.6 384.9L2507.1 376.2L2500.3 370.8L2508.7 370.7zM2518.8 372.6L2521.5 381.2L2529.9 381.3L2523.2 386.8L2525.7 395.5L2518.8 390.2L2511.9 395.5L2514.4 386.8L2507.7 381.3L2516.1 381.2zM2613.8 370.0L2616.5 378.6L2624.9 378.7L2618.2 384.1L2620.7 392.8L2613.8 387.6L2606.9 392.8L2609.4 384.1L2602.7 378.7L2611.1 378.6z" fill="#11a44d" stroke="#11a44d" stroke-width="1.3" stroke-linejoin="miter"/>
<line x1="1875.7" y1="856.2" x2="2958.9" y2="479.6" stroke="#1580c2" stroke-width="3.0"/>
<line x1="1875.7" y1="875.3" x2="2958.9" y2="247.7" stroke="#ff8e30" stroke-width="3.4"/>
<line x1="1857.6" y1="928.1" x2="3215.8" y2="53.6" stroke="#11a44d" stroke-width="3.0"/>
<circle cx="1875.7" cy="856.2" r="7.1" fill="none" stroke="#1580c2" stroke-width="3.1"/>
<path d="M1875.7 863.8l6.8 11.5l-6.8 11.5l-6.8 -11.5z" fill="none" stroke="#ff8e30" stroke-width="3.1"/>
<circle cx="2958.9" cy="479.6" r="7.1" fill="none" stroke="#1580c2" stroke-width="3.1"/>
<path d="M2958.9 236.2l6.8 11.5l-6.8 11.5l-6.8 -11.5z" fill="none" stroke="#ff8e30" stroke-width="3.1"/>
<rect x="1851.1" y="921.6" width="13" height="13" fill="none" stroke="#11a44d" stroke-width="3.1"/>
<rect x="3209.3" y="47.1" width="13" height="13" fill="none" stroke="#11a44d" stroke-width="3.1"/>
<rect x="1857.6" y="53.6" width="1358.2000000000003" height="874.5" fill="none" stroke="#202020" stroke-width="3.5"/>
<path d="M2084.0 928.1v-16M2084.0 53.6v16M1857.6 782.4h16M3215.8 782.4h-16M2310.3 928.1v-16M2310.3 53.6v16M1857.6 636.6h16M3215.8 636.6h-16M2536.7 928.1v-16M2536.7 53.6v16M1857.6 490.9h16M3215.8 490.9h-16M2763.1 928.1v-16M2763.1 53.6v16M1857.6 345.1h16M3215.8 345.1h-16M2989.4 928.1v-16M2989.4 53.6v16M1857.6 199.4h16M3215.8 199.4h-16" stroke="#202020" stroke-width="3.5" fill="none"/>
<text transform="translate(1857.6 989.9) scale(0.905 1)" font-size="50.8" font-family="Liberation Serif, serif" fill="#202020" text-anchor="middle">0</text>
<text transform="translate(1842.2 945.4) scale(0.905 1)" font-size="50.8" font-family="Liberation Serif, serif" fill="#202020" text-anchor="end">0</text>
<text transform="translate(2084.0 989.9) scale(0.905 1)" font-size="50.8" font-family="Liberation Serif, serif" fill="#202020" text-anchor="middle">1</text>
<text transform="translate(1842.2 799.6) scale(0.905 1)" font-size="50.8" font-family="Liberation Serif, serif" fill="#202020" text-anchor="end">1</text>
<text transform="translate(2310.3 989.9) scale(0.905 1)" font-size="50.8" font-family="Liberation Serif, serif" fill="#202020" text-anchor="middle">2</text>
<text transform="translate(1842.2 653.9) scale(0.905 1)" font-size="50.8" font-family="Liberation Serif, serif" fill="#202020" text-anchor="end">2</text>
<text transform="translate(2536.7 989.9) scale(0.905 1)" font-size="50.8" font-family="Liberation Serif, serif" fill="#202020" text-anchor="middle">3</text>
<text transform="translate(1842.2 508.2) scale(0.905 1)" font-size="50.8" font-family="Liberation Serif, serif" fill="#202020" text-anchor="end">3</text>
<text transform="translate(2763.1 989.9) scale(0.905 1)" font-size="50.8" font-family="Liberation Serif, serif" fill="#202020" text-anchor="middle">4</text>
<text transform="translate(1842.2 362.4) scale(0.905 1)" font-size="50.8" font-family="Liberation Serif, serif" fill="#202020" text-anchor="end">4</text>
<text transform="translate(2989.4 989.9) scale(0.905 1)" font-size="50.8" font-family="Liberation Serif, serif" fill="#202020" text-anchor="middle">5</text>
<text transform="translate(1842.2 216.7) scale(0.905 1)" font-size="50.8" font-family="Liberation Serif, serif" fill="#202020" text-anchor="end">5</text>
<text transform="translate(3215.8 989.9) scale(0.905 1)" font-size="50.8" font-family="Liberation Serif, serif" fill="#202020" text-anchor="middle">6</text>
<text transform="translate(1842.2 70.9) scale(0.905 1)" font-size="50.8" font-family="Liberation Serif, serif" fill="#202020" text-anchor="end">6</text>
<text x="2216.5" y="1063.6" font-size="47" font-family="Liberation Serif, serif" fill="#202020" textLength="638" lengthAdjust="spacing">Observed leaf area index (m<tspan font-size="37.1" dy="-25.9">2</tspan><tspan dy="25.9">/m</tspan><tspan font-size="37.1" dy="-25.9">2</tspan><tspan dy="25.9">)</tspan></text>
<text transform="translate(1801.8 491.7) rotate(-90)" font-size="47" font-family="Liberation Serif, serif" fill="#202020" text-anchor="middle" textLength="690" lengthAdjust="spacingAndGlyphs">Simulated leaf area index (m<tspan font-size="37.1" dy="-25.9">2</tspan><tspan dy="25.9">/m</tspan><tspan font-size="37.1" dy="-25.9">2</tspan><tspan dy="25.9">)</tspan></text>
<rect x="1888.4" y="79.9" width="513.0" height="262.9" fill="#fff" stroke="#202020" stroke-width="3.6"/>
<path d="M1930.5 104.1l9.8 9.8M1930.5 113.9l9.8 -9.8" stroke="#ff8e30" stroke-width="3.6" fill="none"/>
<path d="M1935.4 149.0L1938.1 157.6L1946.5 157.7L1939.8 163.1L1942.3 171.8L1935.4 166.6L1928.5 171.8L1931.0 163.1L1924.3 157.7L1932.7 157.6z" fill="#11a44d" stroke="#11a44d" stroke-width="1.3"/>
<line x1="1897" y1="211.5" x2="1974.5" y2="211.5" stroke="#1580c2" stroke-width="3.6"/>
<line x1="1897" y1="263" x2="1974.5" y2="263" stroke="#ff8e30" stroke-width="3.6"/>
<line x1="1897" y1="314.5" x2="1974.5" y2="314.5" stroke="#11a44d" stroke-width="3.6"/>
<circle cx="1935.4" cy="211.5" r="7.1" fill="none" stroke="#1580c2" stroke-width="3.1"/>
<path d="M1935.4 251.5l6.8 11.5l-6.8 11.5l-6.8 -11.5z" fill="none" stroke="#ff8e30" stroke-width="3.1"/>
<rect x="1928.9" y="307.6" width="13" height="13" fill="none" stroke="#11a44d" stroke-width="3.1"/>
<text x="1981" y="124.8" font-size="44.5" font-family="Liberation Serif, serif" fill="#000" textLength="331.5" lengthAdjust="spacingAndGlyphs">CERES-Maize LAI</text>
<text x="1981" y="175.8" font-size="44.5" font-family="Liberation Serif, serif" fill="#000" textLength="282" lengthAdjust="spacingAndGlyphs">Assimilated LAI</text>
<text x="1981" y="227.3" font-size="44.5" font-family="Liberation Serif, serif" fill="#000" textLength="410.5" lengthAdjust="spacingAndGlyphs">Fit line (CERES-Maize)</text>
<text x="1981" y="278.8" font-size="44.5" font-family="Liberation Serif, serif" fill="#000" textLength="375" lengthAdjust="spacingAndGlyphs">Fit line (Assimilation)</text>
<text x="1981" y="330.3" font-size="44.5" font-family="Liberation Serif, serif" fill="#000" textLength="127" lengthAdjust="spacingAndGlyphs">1:1 line</text>
<text transform="translate(2978 157.4) scale(0.915 1)" font-size="76.5" font-family="Liberation Serif, serif" fill="#000" text-anchor="middle">(b)</text>
</g>
</svg>
</body></html>
